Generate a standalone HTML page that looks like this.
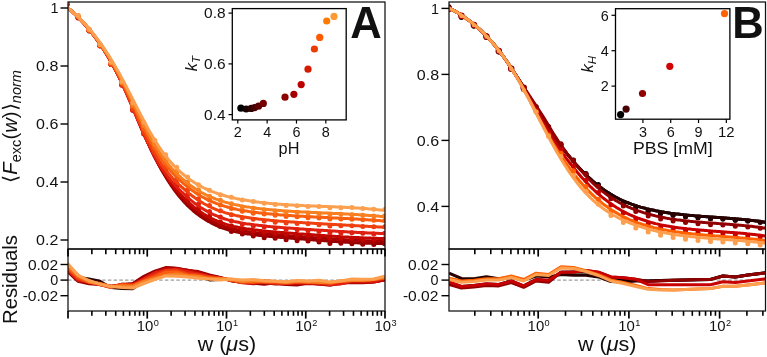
<!DOCTYPE html>
<html><head><meta charset="utf-8"><style>
html,body{margin:0;padding:0;background:#fff;width:767px;height:357px;overflow:hidden}
svg{display:block;will-change:transform;font-family:"Liberation Sans", sans-serif}
</style></head><body>
<svg width="767" height="357" viewBox="0 0 767 357">
<defs><clipPath id="ca"><rect x="68" y="2" width="317" height="247"/></clipPath><clipPath id="cb"><rect x="449" y="2" width="316.5" height="247"/></clipPath><clipPath id="cra"><rect x="68" y="249" width="317" height="62"/></clipPath><clipPath id="crb"><rect x="449" y="249" width="316.5" height="62"/></clipPath></defs>
<rect width="767" height="357" fill="#fff"/>
<g clip-path="url(#ca)" fill="none" stroke-linejoin="round">
<path d="M66.0,6.4L67.5,7.5L69.0,8.8L70.5,10.1L72.0,11.4L73.5,12.8L75.0,14.2L76.5,15.7L78.0,17.1L79.5,18.7L81.0,20.2L82.5,21.8L84.0,23.5L85.5,25.1L87.0,26.9L88.5,28.6L90.0,30.5L91.5,32.3L93.0,34.2L94.5,36.2L96.0,38.2L97.5,40.3L99.0,42.4L100.5,44.6L102.0,46.8L103.5,49.1L105.0,51.5L106.5,53.9L108.0,56.4L109.5,58.9L111.0,61.5L112.5,64.2L114.0,66.9L115.5,69.8L117.0,72.6L118.5,75.6L120.0,78.6L121.5,81.7L123.0,84.9L124.5,88.1L126.0,91.4L127.5,94.8L129.0,98.2L130.5,101.7L132.0,105.2L133.5,108.7L135.0,112.3L136.5,115.9L138.0,119.5L139.5,123.0L141.0,126.6L142.5,130.1L144.0,133.6L145.5,137.1L147.0,140.5L148.5,143.8L150.0,147.1L151.5,150.3L153.0,153.4L154.5,156.5L156.0,159.5L157.5,162.4L159.0,165.2L160.5,168.0L162.0,170.7L163.5,173.3L165.0,175.8L166.5,178.3L168.0,180.7L169.5,183.0L171.0,185.3L172.5,187.4L174.0,189.6L175.5,191.6L177.0,193.6L178.5,195.5L180.0,197.3L181.5,199.1L183.0,200.8L184.5,202.5L186.0,204.0L187.5,205.6L189.0,207.0L190.5,208.4L192.0,209.7L193.5,211.0L195.0,212.3L196.5,213.5L198.0,214.6L199.5,215.7L201.0,216.8L202.5,217.8L204.0,218.8L205.5,219.7L207.0,220.6L208.5,221.5L210.0,222.3L211.5,223.1L213.0,223.9L214.5,224.6L216.0,225.3L217.5,226.0L219.0,226.6L220.5,227.3L222.0,227.8L223.5,228.4L225.0,228.9L226.5,229.4L228.0,229.8L229.5,230.3L231.0,230.7L232.5,231.0L234.0,231.4L235.5,231.7L237.0,232.1L238.5,232.4L240.0,232.6L241.5,232.9L243.0,233.2L244.5,233.4L246.0,233.7L247.5,233.9L249.0,234.1L250.5,234.3L252.0,234.5L253.5,234.7L255.0,234.9L256.5,235.1L258.0,235.3L259.5,235.4L261.0,235.6L262.5,235.8L264.0,235.9L265.5,236.1L267.0,236.2L268.5,236.3L270.0,236.5L271.5,236.6L273.0,236.8L274.5,236.9L276.0,237.0L277.5,237.1L279.0,237.3L280.5,237.4L282.0,237.5L283.5,237.6L285.0,237.7L286.5,237.8L288.0,238.0L289.5,238.1L291.0,238.2L292.5,238.3L294.0,238.4L295.5,238.5L297.0,238.6L298.5,238.8L300.0,238.9L301.5,239.0L303.0,239.1L304.5,239.2L306.0,239.3L307.5,239.5L309.0,239.6L310.5,239.7L312.0,239.8L313.5,239.9L315.0,240.0L316.5,240.2L318.0,240.3L319.5,240.4L321.0,240.5L322.5,240.6L324.0,240.7L325.5,240.8L327.0,241.0L328.5,241.1L330.0,241.2L331.5,241.3L333.0,241.4L334.5,241.5L336.0,241.6L337.5,241.7L339.0,241.8L340.5,241.9L342.0,242.0L343.5,242.1L345.0,242.2L346.5,242.3L348.0,242.3L349.5,242.4L351.0,242.5L352.5,242.6L354.0,242.7L355.5,242.7L357.0,242.8L358.5,242.9L360.0,242.9L361.5,243.0L363.0,243.1L364.5,243.1L366.0,243.2L367.5,243.2L369.0,243.3L370.5,243.3L372.0,243.3L373.5,243.4L375.0,243.4L376.5,243.4L378.0,243.4L379.5,243.5L381.0,243.5L382.5,243.5L384.0,243.5L385.5,243.5L387.0,243.5" stroke="#960000" stroke-width="3.0"/>
<g fill="#960000"><circle cx="67.2" cy="4.3" r="2.5"/><circle cx="78.1" cy="18.0" r="2.5"/><circle cx="89.1" cy="30.9" r="2.5"/><circle cx="100.0" cy="45.8" r="2.5"/><circle cx="111.0" cy="64.4" r="2.5"/><circle cx="121.9" cy="84.5" r="2.5"/><circle cx="132.8" cy="108.7" r="2.5"/><circle cx="143.8" cy="132.0" r="2.5"/><circle cx="154.8" cy="153.9" r="2.5"/><circle cx="165.7" cy="172.7" r="2.5"/><circle cx="176.7" cy="189.0" r="2.5"/><circle cx="187.6" cy="202.4" r="2.5"/><circle cx="198.5" cy="212.2" r="2.5"/><circle cx="209.5" cy="220.4" r="2.5"/><circle cx="220.4" cy="226.5" r="2.5"/><circle cx="231.4" cy="231.4" r="2.5"/><circle cx="242.3" cy="234.1" r="2.5"/><circle cx="253.3" cy="236.1" r="2.5"/><circle cx="264.2" cy="237.8" r="2.5"/><circle cx="275.2" cy="238.2" r="2.5"/><circle cx="286.1" cy="239.8" r="2.5"/><circle cx="297.1" cy="240.8" r="2.5"/><circle cx="308.0" cy="240.9" r="2.5"/><circle cx="319.0" cy="242.1" r="2.5"/><circle cx="329.9" cy="243.4" r="2.5"/><circle cx="340.9" cy="243.3" r="2.5"/><circle cx="351.9" cy="243.8" r="2.5"/><circle cx="362.8" cy="244.3" r="2.5"/><circle cx="373.8" cy="244.4" r="2.5"/><circle cx="384.7" cy="243.7" r="2.5"/></g>
<path d="M66.0,6.4L67.5,7.5L69.0,8.8L70.5,10.1L72.0,11.4L73.5,12.8L75.0,14.2L76.5,15.7L78.0,17.1L79.5,18.7L81.0,20.2L82.5,21.8L84.0,23.5L85.5,25.2L87.0,26.9L88.5,28.7L90.0,30.5L91.5,32.4L93.0,34.3L94.5,36.2L96.0,38.3L97.5,40.3L99.0,42.5L100.5,44.6L102.0,46.9L103.5,49.2L105.0,51.6L106.5,54.0L108.0,56.5L109.5,59.0L111.0,61.6L112.5,64.3L114.0,67.1L115.5,69.9L117.0,72.8L118.5,75.7L120.0,78.8L121.5,81.9L123.0,85.1L124.5,88.4L126.0,91.7L127.5,95.1L129.0,98.5L130.5,102.0L132.0,105.5L133.5,109.1L135.0,112.7L136.5,116.3L138.0,119.8L139.5,123.4L141.0,127.0L142.5,130.5L144.0,134.0L145.5,137.4L147.0,140.7L148.5,144.0L150.0,147.3L151.5,150.4L153.0,153.5L154.5,156.5L156.0,159.4L157.5,162.3L159.0,165.0L160.5,167.7L162.0,170.3L163.5,172.8L165.0,175.2L166.5,177.6L168.0,179.9L169.5,182.1L171.0,184.2L172.5,186.3L174.0,188.3L175.5,190.3L177.0,192.1L178.5,194.0L180.0,195.7L181.5,197.4L183.0,199.1L184.5,200.6L186.0,202.2L187.5,203.6L189.0,205.0L190.5,206.4L192.0,207.7L193.5,209.0L195.0,210.2L196.5,211.4L198.0,212.5L199.5,213.6L201.0,214.7L202.5,215.7L204.0,216.6L205.5,217.6L207.0,218.5L208.5,219.3L210.0,220.1L211.5,220.9L213.0,221.7L214.5,222.4L216.0,223.1L217.5,223.7L219.0,224.4L220.5,225.0L222.0,225.5L223.5,226.1L225.0,226.6L226.5,227.0L228.0,227.5L229.5,227.9L231.0,228.3L232.5,228.7L234.0,229.1L235.5,229.4L237.0,229.7L238.5,230.0L240.0,230.3L241.5,230.6L243.0,230.8L244.5,231.1L246.0,231.3L247.5,231.6L249.0,231.8L250.5,232.0L252.0,232.2L253.5,232.4L255.0,232.6L256.5,232.8L258.0,232.9L259.5,233.1L261.0,233.3L262.5,233.4L264.0,233.6L265.5,233.7L267.0,233.9L268.5,234.0L270.0,234.2L271.5,234.3L273.0,234.4L274.5,234.6L276.0,234.7L277.5,234.8L279.0,234.9L280.5,235.1L282.0,235.2L283.5,235.3L285.0,235.4L286.5,235.5L288.0,235.6L289.5,235.8L291.0,235.9L292.5,236.0L294.0,236.1L295.5,236.2L297.0,236.3L298.5,236.4L300.0,236.5L301.5,236.6L303.0,236.8L304.5,236.9L306.0,237.0L307.5,237.1L309.0,237.2L310.5,237.3L312.0,237.4L313.5,237.6L315.0,237.7L316.5,237.8L318.0,237.9L319.5,238.0L321.0,238.1L322.5,238.2L324.0,238.3L325.5,238.4L327.0,238.6L328.5,238.7L330.0,238.8L331.5,238.9L333.0,239.0L334.5,239.1L336.0,239.2L337.5,239.3L339.0,239.4L340.5,239.5L342.0,239.5L343.5,239.6L345.0,239.7L346.5,239.8L348.0,239.9L349.5,240.0L351.0,240.1L352.5,240.1L354.0,240.2L355.5,240.3L357.0,240.4L358.5,240.4L360.0,240.5L361.5,240.6L363.0,240.6L364.5,240.7L366.0,240.7L367.5,240.8L369.0,240.8L370.5,240.9L372.0,240.9L373.5,241.0L375.0,241.0L376.5,241.1L378.0,241.1L379.5,241.1L381.0,241.1L382.5,241.2L384.0,241.2L385.5,241.2L387.0,241.2" stroke="#a80000" stroke-width="3.0"/>
<g fill="#a80000"><circle cx="67.2" cy="4.0" r="2.5"/><circle cx="78.1" cy="17.6" r="2.5"/><circle cx="89.1" cy="30.8" r="2.5"/><circle cx="100.0" cy="45.7" r="2.5"/><circle cx="111.0" cy="64.1" r="2.5"/><circle cx="121.9" cy="85.0" r="2.5"/><circle cx="132.8" cy="109.4" r="2.5"/><circle cx="143.8" cy="132.7" r="2.5"/><circle cx="154.8" cy="154.4" r="2.5"/><circle cx="165.7" cy="172.1" r="2.5"/><circle cx="176.7" cy="187.6" r="2.5"/><circle cx="187.6" cy="200.3" r="2.5"/><circle cx="198.5" cy="210.5" r="2.5"/><circle cx="209.5" cy="218.6" r="2.5"/><circle cx="220.4" cy="224.4" r="2.5"/><circle cx="231.4" cy="228.9" r="2.5"/><circle cx="242.3" cy="231.9" r="2.5"/><circle cx="253.3" cy="234.0" r="2.5"/><circle cx="264.2" cy="234.8" r="2.5"/><circle cx="275.2" cy="236.4" r="2.5"/><circle cx="286.1" cy="237.3" r="2.5"/><circle cx="297.1" cy="238.0" r="2.5"/><circle cx="308.0" cy="238.7" r="2.5"/><circle cx="319.0" cy="239.6" r="2.5"/><circle cx="329.9" cy="240.5" r="2.5"/><circle cx="340.9" cy="240.7" r="2.5"/><circle cx="351.9" cy="240.9" r="2.5"/><circle cx="362.8" cy="241.8" r="2.5"/><circle cx="373.8" cy="241.8" r="2.5"/><circle cx="384.7" cy="241.4" r="2.5"/></g>
<path d="M66.0,6.4L67.5,7.5L69.0,8.8L70.5,10.1L72.0,11.4L73.5,12.8L75.0,14.2L76.5,15.7L78.0,17.2L79.5,18.7L81.0,20.2L82.5,21.8L84.0,23.5L85.5,25.2L87.0,26.9L88.5,28.7L90.0,30.5L91.5,32.4L93.0,34.3L94.5,36.3L96.0,38.3L97.5,40.4L99.0,42.5L100.5,44.7L102.0,47.0L103.5,49.3L105.0,51.6L106.5,54.1L108.0,56.5L109.5,59.1L111.0,61.7L112.5,64.4L114.0,67.2L115.5,70.0L117.0,72.9L118.5,75.9L120.0,79.0L121.5,82.1L123.0,85.3L124.5,88.6L126.0,91.9L127.5,95.3L129.0,98.8L130.5,102.3L132.0,105.9L133.5,109.4L135.0,113.0L136.5,116.6L138.0,120.2L139.5,123.8L141.0,127.3L142.5,130.8L144.0,134.3L145.5,137.7L147.0,141.0L148.5,144.2L150.0,147.4L151.5,150.5L153.0,153.5L154.5,156.4L156.0,159.3L157.5,162.0L159.0,164.7L160.5,167.2L162.0,169.7L163.5,172.1L165.0,174.5L166.5,176.7L168.0,178.9L169.5,181.0L171.0,183.0L172.5,185.0L174.0,186.9L175.5,188.7L177.0,190.5L178.5,192.2L180.0,193.9L181.5,195.5L183.0,197.0L184.5,198.5L186.0,200.0L187.5,201.4L189.0,202.8L190.5,204.1L192.0,205.4L193.5,206.7L195.0,207.9L196.5,209.0L198.0,210.1L199.5,211.2L201.0,212.2L202.5,213.2L204.0,214.2L205.5,215.1L207.0,216.0L208.5,216.8L210.0,217.6L211.5,218.4L213.0,219.1L214.5,219.8L216.0,220.5L217.5,221.1L219.0,221.7L220.5,222.3L222.0,222.9L223.5,223.4L225.0,223.9L226.5,224.4L228.0,224.8L229.5,225.3L231.0,225.7L232.5,226.0L234.0,226.4L235.5,226.7L237.0,227.0L238.5,227.4L240.0,227.6L241.5,227.9L243.0,228.2L244.5,228.4L246.0,228.7L247.5,228.9L249.0,229.1L250.5,229.3L252.0,229.5L253.5,229.7L255.0,229.9L256.5,230.1L258.0,230.3L259.5,230.5L261.0,230.6L262.5,230.8L264.0,230.9L265.5,231.1L267.0,231.2L268.5,231.4L270.0,231.5L271.5,231.7L273.0,231.8L274.5,231.9L276.0,232.1L277.5,232.2L279.0,232.3L280.5,232.4L282.0,232.5L283.5,232.6L285.0,232.8L286.5,232.9L288.0,233.0L289.5,233.1L291.0,233.2L292.5,233.3L294.0,233.4L295.5,233.5L297.0,233.6L298.5,233.8L300.0,233.9L301.5,234.0L303.0,234.1L304.5,234.2L306.0,234.3L307.5,234.4L309.0,234.5L310.5,234.6L312.0,234.7L313.5,234.8L315.0,235.0L316.5,235.1L318.0,235.2L319.5,235.3L321.0,235.4L322.5,235.5L324.0,235.6L325.5,235.7L327.0,235.8L328.5,235.9L330.0,236.0L331.5,236.1L333.0,236.2L334.5,236.3L336.0,236.4L337.5,236.5L339.0,236.6L340.5,236.7L342.0,236.8L343.5,236.9L345.0,236.9L346.5,237.0L348.0,237.1L349.5,237.2L351.0,237.3L352.5,237.4L354.0,237.4L355.5,237.5L357.0,237.6L358.5,237.6L360.0,237.7L361.5,237.8L363.0,237.9L364.5,237.9L366.0,238.0L367.5,238.0L369.0,238.1L370.5,238.1L372.0,238.2L373.5,238.3L375.0,238.3L376.5,238.3L378.0,238.4L379.5,238.4L381.0,238.5L382.5,238.5L384.0,238.5L385.5,238.6L387.0,238.6" stroke="#c00800" stroke-width="3.0"/>
<g fill="#c00800"><circle cx="67.2" cy="3.8" r="2.5"/><circle cx="78.1" cy="17.6" r="2.5"/><circle cx="89.1" cy="30.5" r="2.5"/><circle cx="100.0" cy="45.6" r="2.5"/><circle cx="111.0" cy="64.4" r="2.5"/><circle cx="121.9" cy="84.8" r="2.5"/><circle cx="132.8" cy="110.0" r="2.5"/><circle cx="143.8" cy="133.7" r="2.5"/><circle cx="154.8" cy="154.7" r="2.5"/><circle cx="165.7" cy="171.7" r="2.5"/><circle cx="176.7" cy="186.6" r="2.5"/><circle cx="187.6" cy="198.2" r="2.5"/><circle cx="198.5" cy="208.0" r="2.5"/><circle cx="209.5" cy="216.2" r="2.5"/><circle cx="220.4" cy="222.0" r="2.5"/><circle cx="231.4" cy="226.0" r="2.5"/><circle cx="242.3" cy="228.9" r="2.5"/><circle cx="253.3" cy="230.9" r="2.5"/><circle cx="264.2" cy="232.2" r="2.5"/><circle cx="275.2" cy="233.3" r="2.5"/><circle cx="286.1" cy="234.3" r="2.5"/><circle cx="297.1" cy="235.2" r="2.5"/><circle cx="308.0" cy="235.8" r="2.5"/><circle cx="319.0" cy="237.0" r="2.5"/><circle cx="329.9" cy="238.0" r="2.5"/><circle cx="340.9" cy="238.2" r="2.5"/><circle cx="351.9" cy="238.3" r="2.5"/><circle cx="362.8" cy="239.0" r="2.5"/><circle cx="373.8" cy="239.3" r="2.5"/><circle cx="384.7" cy="238.7" r="2.5"/></g>
<path d="M66.0,6.4L67.5,7.5L69.0,8.8L70.5,10.1L72.0,11.4L73.5,12.8L75.0,14.2L76.5,15.7L78.0,17.2L79.5,18.7L81.0,20.3L82.5,21.9L84.0,23.5L85.5,25.2L87.0,26.9L88.5,28.7L90.0,30.5L91.5,32.4L93.0,34.3L94.5,36.3L96.0,38.3L97.5,40.4L99.0,42.6L100.5,44.8L102.0,47.0L103.5,49.3L105.0,51.7L106.5,54.1L108.0,56.6L109.5,59.2L111.0,61.8L112.5,64.5L114.0,67.3L115.5,70.2L117.0,73.1L118.5,76.1L120.0,79.1L121.5,82.3L123.0,85.5L124.5,88.8L126.0,92.2L127.5,95.6L129.0,99.1L130.5,102.6L132.0,106.2L133.5,109.8L135.0,113.4L136.5,117.0L138.0,120.6L139.5,124.1L141.0,127.6L142.5,131.1L144.0,134.5L145.5,137.8L147.0,141.0L148.5,144.2L150.0,147.3L151.5,150.2L153.0,153.1L154.5,155.9L156.0,158.6L157.5,161.2L159.0,163.7L160.5,166.1L162.0,168.4L163.5,170.6L165.0,172.8L166.5,174.8L168.0,176.8L169.5,178.7L171.0,180.6L172.5,182.3L174.0,184.0L175.5,185.7L177.0,187.3L178.5,188.8L180.0,190.3L181.5,191.8L183.0,193.2L184.5,194.6L186.0,196.0L187.5,197.3L189.0,198.6L190.5,199.9L192.0,201.1L193.5,202.3L195.0,203.5L196.5,204.6L198.0,205.7L199.5,206.7L201.0,207.7L202.5,208.6L204.0,209.5L205.5,210.4L207.0,211.3L208.5,212.1L210.0,212.8L211.5,213.6L213.0,214.3L214.5,215.0L216.0,215.6L217.5,216.2L219.0,216.8L220.5,217.4L222.0,218.0L223.5,218.5L225.0,219.0L226.5,219.4L228.0,219.9L229.5,220.3L231.0,220.7L232.5,221.0L234.0,221.4L235.5,221.7L237.0,222.0L238.5,222.3L240.0,222.6L241.5,222.9L243.0,223.2L244.5,223.4L246.0,223.7L247.5,223.9L249.0,224.1L250.5,224.3L252.0,224.5L253.5,224.7L255.0,224.9L256.5,225.1L258.0,225.3L259.5,225.5L261.0,225.6L262.5,225.8L264.0,226.0L265.5,226.1L267.0,226.3L268.5,226.4L270.0,226.6L271.5,226.7L273.0,226.8L274.5,227.0L276.0,227.1L277.5,227.2L279.0,227.3L280.5,227.5L282.0,227.6L283.5,227.7L285.0,227.8L286.5,227.9L288.0,228.0L289.5,228.1L291.0,228.2L292.5,228.3L294.0,228.4L295.5,228.5L297.0,228.6L298.5,228.7L300.0,228.9L301.5,229.0L303.0,229.1L304.5,229.2L306.0,229.3L307.5,229.4L309.0,229.5L310.5,229.6L312.0,229.7L313.5,229.8L315.0,229.9L316.5,230.0L318.0,230.1L319.5,230.2L321.0,230.3L322.5,230.3L324.0,230.4L325.5,230.5L327.0,230.6L328.5,230.7L330.0,230.8L331.5,230.9L333.0,231.0L334.5,231.1L336.0,231.2L337.5,231.3L339.0,231.4L340.5,231.5L342.0,231.5L343.5,231.6L345.0,231.7L346.5,231.8L348.0,231.9L349.5,232.0L351.0,232.0L352.5,232.1L354.0,232.2L355.5,232.3L357.0,232.4L358.5,232.4L360.0,232.5L361.5,232.6L363.0,232.7L364.5,232.7L366.0,232.8L367.5,232.9L369.0,232.9L370.5,233.0L372.0,233.1L373.5,233.1L375.0,233.2L376.5,233.3L378.0,233.3L379.5,233.4L381.0,233.5L382.5,233.5L384.0,233.6L385.5,233.6L387.0,233.7" stroke="#e02010" stroke-width="3.0"/>
<g fill="#e02010"><circle cx="67.2" cy="3.5" r="2.5"/><circle cx="78.1" cy="17.5" r="2.5"/><circle cx="89.1" cy="30.4" r="2.5"/><circle cx="100.0" cy="46.1" r="2.5"/><circle cx="111.0" cy="64.3" r="2.5"/><circle cx="121.9" cy="85.2" r="2.5"/><circle cx="132.8" cy="110.4" r="2.5"/><circle cx="143.8" cy="133.9" r="2.5"/><circle cx="154.8" cy="153.9" r="2.5"/><circle cx="165.7" cy="170.3" r="2.5"/><circle cx="176.7" cy="183.1" r="2.5"/><circle cx="187.6" cy="194.5" r="2.5"/><circle cx="198.5" cy="204.1" r="2.5"/><circle cx="209.5" cy="211.6" r="2.5"/><circle cx="220.4" cy="217.0" r="2.5"/><circle cx="231.4" cy="221.1" r="2.5"/><circle cx="242.3" cy="224.4" r="2.5"/><circle cx="253.3" cy="226.1" r="2.5"/><circle cx="264.2" cy="226.9" r="2.5"/><circle cx="275.2" cy="228.3" r="2.5"/><circle cx="286.1" cy="229.5" r="2.5"/><circle cx="297.1" cy="229.8" r="2.5"/><circle cx="308.0" cy="230.7" r="2.5"/><circle cx="319.0" cy="231.6" r="2.5"/><circle cx="329.9" cy="232.7" r="2.5"/><circle cx="340.9" cy="233.2" r="2.5"/><circle cx="351.9" cy="232.7" r="2.5"/><circle cx="362.8" cy="233.3" r="2.5"/><circle cx="373.8" cy="233.9" r="2.5"/><circle cx="384.7" cy="233.2" r="2.5"/></g>
<path d="M66.0,6.4L67.5,7.5L69.0,8.8L70.5,10.1L72.0,11.4L73.5,12.8L75.0,14.2L76.5,15.6L78.0,17.1L79.5,18.6L81.0,20.2L82.5,21.8L84.0,23.4L85.5,25.1L87.0,26.8L88.5,28.6L90.0,30.4L91.5,32.3L93.0,34.2L94.5,36.2L96.0,38.2L97.5,40.3L99.0,42.4L100.5,44.6L102.0,46.8L103.5,49.1L105.0,51.4L106.5,53.8L108.0,56.3L109.5,58.8L111.0,61.4L112.5,64.1L114.0,66.9L115.5,69.7L117.0,72.5L118.5,75.5L120.0,78.5L121.5,81.6L123.0,84.7L124.5,88.0L126.0,91.3L127.5,94.6L129.0,98.0L130.5,101.5L132.0,104.9L133.5,108.4L135.0,111.9L136.5,115.4L138.0,118.9L139.5,122.3L141.0,125.7L142.5,129.0L144.0,132.3L145.5,135.5L147.0,138.6L148.5,141.7L150.0,144.6L151.5,147.5L153.0,150.2L154.5,152.9L156.0,155.5L157.5,157.9L159.0,160.3L160.5,162.6L162.0,164.8L163.5,166.9L165.0,169.0L166.5,170.9L168.0,172.8L169.5,174.6L171.0,176.3L172.5,178.0L174.0,179.6L175.5,181.1L177.0,182.6L178.5,184.1L180.0,185.5L181.5,186.8L183.0,188.2L184.5,189.5L186.0,190.8L187.5,192.0L189.0,193.3L190.5,194.5L192.0,195.7L193.5,196.8L195.0,197.9L196.5,199.0L198.0,200.0L199.5,201.0L201.0,201.9L202.5,202.8L204.0,203.7L205.5,204.5L207.0,205.3L208.5,206.1L210.0,206.8L211.5,207.5L213.0,208.2L214.5,208.8L216.0,209.5L217.5,210.1L219.0,210.6L220.5,211.2L222.0,211.7L223.5,212.2L225.0,212.7L226.5,213.1L228.0,213.5L229.5,213.9L231.0,214.3L232.5,214.7L234.0,215.0L235.5,215.4L237.0,215.7L238.5,216.0L240.0,216.3L241.5,216.6L243.0,216.8L244.5,217.1L246.0,217.3L247.5,217.6L249.0,217.8L250.5,218.0L252.0,218.2L253.5,218.4L255.0,218.6L256.5,218.8L258.0,219.0L259.5,219.2L261.0,219.3L262.5,219.5L264.0,219.7L265.5,219.8L267.0,220.0L268.5,220.1L270.0,220.3L271.5,220.4L273.0,220.5L274.5,220.7L276.0,220.8L277.5,220.9L279.0,221.1L280.5,221.2L282.0,221.3L283.5,221.4L285.0,221.5L286.5,221.6L288.0,221.7L289.5,221.8L291.0,221.9L292.5,222.0L294.0,222.1L295.5,222.2L297.0,222.3L298.5,222.4L300.0,222.5L301.5,222.6L303.0,222.7L304.5,222.8L306.0,222.9L307.5,223.0L309.0,223.1L310.5,223.1L312.0,223.2L313.5,223.3L315.0,223.4L316.5,223.5L318.0,223.6L319.5,223.7L321.0,223.8L322.5,223.8L324.0,223.9L325.5,224.0L327.0,224.1L328.5,224.2L330.0,224.3L331.5,224.3L333.0,224.4L334.5,224.5L336.0,224.6L337.5,224.7L339.0,224.8L340.5,224.8L342.0,224.9L343.5,225.0L345.0,225.1L346.5,225.2L348.0,225.2L349.5,225.3L351.0,225.4L352.5,225.5L354.0,225.6L355.5,225.7L357.0,225.7L358.5,225.8L360.0,225.9L361.5,226.0L363.0,226.1L364.5,226.2L366.0,226.2L367.5,226.3L369.0,226.4L370.5,226.5L372.0,226.6L373.5,226.7L375.0,226.8L376.5,226.8L378.0,226.9L379.5,227.0L381.0,227.1L382.5,227.2L384.0,227.3L385.5,227.4L387.0,227.5" stroke="#f04010" stroke-width="3.0"/>
<g fill="#f04010"><circle cx="67.2" cy="3.0" r="2.5"/><circle cx="78.1" cy="16.9" r="2.5"/><circle cx="89.1" cy="30.2" r="2.5"/><circle cx="100.0" cy="45.8" r="2.5"/><circle cx="111.0" cy="64.4" r="2.5"/><circle cx="121.9" cy="84.3" r="2.5"/><circle cx="132.8" cy="109.1" r="2.5"/><circle cx="143.8" cy="132.2" r="2.5"/><circle cx="154.8" cy="151.9" r="2.5"/><circle cx="165.7" cy="166.7" r="2.5"/><circle cx="176.7" cy="179.1" r="2.5"/><circle cx="187.6" cy="190.1" r="2.5"/><circle cx="198.5" cy="198.8" r="2.5"/><circle cx="209.5" cy="205.6" r="2.5"/><circle cx="220.4" cy="210.8" r="2.5"/><circle cx="231.4" cy="214.7" r="2.5"/><circle cx="242.3" cy="217.9" r="2.5"/><circle cx="253.3" cy="219.2" r="2.5"/><circle cx="264.2" cy="220.9" r="2.5"/><circle cx="275.2" cy="222.2" r="2.5"/><circle cx="286.1" cy="223.1" r="2.5"/><circle cx="297.1" cy="223.4" r="2.5"/><circle cx="308.0" cy="223.8" r="2.5"/><circle cx="319.0" cy="224.7" r="2.5"/><circle cx="329.9" cy="226.0" r="2.5"/><circle cx="340.9" cy="225.7" r="2.5"/><circle cx="351.9" cy="225.8" r="2.5"/><circle cx="362.8" cy="226.6" r="2.5"/><circle cx="373.8" cy="226.8" r="2.5"/><circle cx="384.7" cy="226.8" r="2.5"/></g>
<path d="M66.0,6.4L67.5,7.5L69.0,8.8L70.5,10.1L72.0,11.4L73.5,12.7L75.0,14.1L76.5,15.6L78.0,17.0L79.5,18.5L81.0,20.1L82.5,21.7L84.0,23.3L85.5,25.0L87.0,26.7L88.5,28.4L90.0,30.2L91.5,32.1L93.0,34.0L94.5,35.9L96.0,37.9L97.5,39.9L99.0,42.0L100.5,44.1L102.0,46.3L103.5,48.6L105.0,50.9L106.5,53.2L108.0,55.7L109.5,58.1L111.0,60.7L112.5,63.3L114.0,65.9L115.5,68.7L117.0,71.4L118.5,74.3L120.0,77.2L121.5,80.2L123.0,83.2L124.5,86.3L126.0,89.4L127.5,92.6L129.0,95.8L130.5,99.1L132.0,102.4L133.5,105.7L135.0,109.0L136.5,112.3L138.0,115.6L139.5,118.8L141.0,122.1L142.5,125.2L144.0,128.3L145.5,131.4L147.0,134.4L148.5,137.3L150.0,140.1L151.5,142.9L153.0,145.6L154.5,148.2L156.0,150.7L157.5,153.1L159.0,155.4L160.5,157.7L162.0,159.8L163.5,161.9L165.0,163.9L166.5,165.9L168.0,167.7L169.5,169.5L171.0,171.2L172.5,172.9L174.0,174.5L175.5,176.0L177.0,177.5L178.5,178.9L180.0,180.3L181.5,181.7L183.0,183.0L184.5,184.3L186.0,185.5L187.5,186.7L189.0,187.9L190.5,189.1L192.0,190.2L193.5,191.3L195.0,192.4L196.5,193.4L198.0,194.3L199.5,195.3L201.0,196.2L202.5,197.0L204.0,197.8L205.5,198.6L207.0,199.4L208.5,200.1L210.0,200.8L211.5,201.5L213.0,202.1L214.5,202.7L216.0,203.3L217.5,203.9L219.0,204.4L220.5,204.9L222.0,205.4L223.5,205.9L225.0,206.4L226.5,206.8L228.0,207.2L229.5,207.6L231.0,208.0L232.5,208.4L234.0,208.7L235.5,209.0L237.0,209.4L238.5,209.7L240.0,209.9L241.5,210.2L243.0,210.5L244.5,210.8L246.0,211.0L247.5,211.2L249.0,211.5L250.5,211.7L252.0,211.9L253.5,212.1L255.0,212.3L256.5,212.5L258.0,212.7L259.5,212.9L261.0,213.0L262.5,213.2L264.0,213.4L265.5,213.5L267.0,213.7L268.5,213.8L270.0,214.0L271.5,214.1L273.0,214.3L274.5,214.4L276.0,214.5L277.5,214.6L279.0,214.8L280.5,214.9L282.0,215.0L283.5,215.1L285.0,215.2L286.5,215.3L288.0,215.4L289.5,215.5L291.0,215.6L292.5,215.7L294.0,215.8L295.5,215.9L297.0,216.0L298.5,216.1L300.0,216.2L301.5,216.2L303.0,216.3L304.5,216.4L306.0,216.5L307.5,216.6L309.0,216.6L310.5,216.7L312.0,216.8L313.5,216.9L315.0,217.0L316.5,217.0L318.0,217.1L319.5,217.2L321.0,217.3L322.5,217.3L324.0,217.4L325.5,217.5L327.0,217.6L328.5,217.6L330.0,217.7L331.5,217.8L333.0,217.9L334.5,217.9L336.0,218.0L337.5,218.1L339.0,218.2L340.5,218.2L342.0,218.3L343.5,218.4L345.0,218.5L346.5,218.5L348.0,218.6L349.5,218.7L351.0,218.8L352.5,218.9L354.0,218.9L355.5,219.0L357.0,219.1L358.5,219.2L360.0,219.3L361.5,219.4L363.0,219.5L364.5,219.6L366.0,219.7L367.5,219.8L369.0,219.9L370.5,220.0L372.0,220.1L373.5,220.2L375.0,220.3L376.5,220.4L378.0,220.5L379.5,220.6L381.0,220.8L382.5,220.9L384.0,221.0L385.5,221.1L387.0,221.3" stroke="#f86010" stroke-width="3.0"/>
<g fill="#f86010"><circle cx="67.2" cy="2.4" r="2.5"/><circle cx="78.1" cy="16.3" r="2.5"/><circle cx="89.1" cy="30.2" r="2.5"/><circle cx="100.0" cy="45.1" r="2.5"/><circle cx="111.0" cy="63.2" r="2.5"/><circle cx="121.9" cy="83.2" r="2.5"/><circle cx="132.8" cy="106.8" r="2.5"/><circle cx="143.8" cy="128.8" r="2.5"/><circle cx="154.8" cy="147.8" r="2.5"/><circle cx="165.7" cy="162.3" r="2.5"/><circle cx="176.7" cy="174.5" r="2.5"/><circle cx="187.6" cy="185.3" r="2.5"/><circle cx="198.5" cy="193.6" r="2.5"/><circle cx="209.5" cy="200.1" r="2.5"/><circle cx="220.4" cy="204.9" r="2.5"/><circle cx="231.4" cy="208.4" r="2.5"/><circle cx="242.3" cy="211.2" r="2.5"/><circle cx="253.3" cy="213.2" r="2.5"/><circle cx="264.2" cy="213.9" r="2.5"/><circle cx="275.2" cy="215.3" r="2.5"/><circle cx="286.1" cy="216.4" r="2.5"/><circle cx="297.1" cy="216.8" r="2.5"/><circle cx="308.0" cy="217.8" r="2.5"/><circle cx="319.0" cy="217.9" r="2.5"/><circle cx="329.9" cy="219.1" r="2.5"/><circle cx="340.9" cy="218.9" r="2.5"/><circle cx="351.9" cy="219.2" r="2.5"/><circle cx="362.8" cy="219.8" r="2.5"/><circle cx="373.8" cy="220.2" r="2.5"/><circle cx="384.7" cy="220.6" r="2.5"/></g>
<path d="M66.0,6.3L67.5,7.5L69.0,8.8L70.5,10.0L72.0,11.4L73.5,12.7L75.0,14.1L76.5,15.5L78.0,17.0L79.5,18.5L81.0,20.0L82.5,21.6L84.0,23.2L85.5,24.8L87.0,26.5L88.5,28.3L90.0,30.0L91.5,31.9L93.0,33.7L94.5,35.6L96.0,37.6L97.5,39.6L99.0,41.7L100.5,43.8L102.0,46.0L103.5,48.2L105.0,50.4L106.5,52.8L108.0,55.1L109.5,57.6L111.0,60.0L112.5,62.6L114.0,65.2L115.5,67.8L117.0,70.5L118.5,73.3L120.0,76.1L121.5,79.0L123.0,81.9L124.5,84.9L126.0,87.9L127.5,90.9L129.0,94.0L130.5,97.2L132.0,100.3L133.5,103.4L135.0,106.6L136.5,109.7L138.0,112.9L139.5,116.0L141.0,119.1L142.5,122.1L144.0,125.1L145.5,128.0L147.0,130.9L148.5,133.8L150.0,136.5L151.5,139.2L153.0,141.8L154.5,144.4L156.0,146.9L157.5,149.3L159.0,151.6L160.5,153.8L162.0,156.0L163.5,158.1L165.0,160.1L166.5,162.1L168.0,164.0L169.5,165.8L171.0,167.5L172.5,169.2L174.0,170.8L175.5,172.4L177.0,173.9L178.5,175.3L180.0,176.7L181.5,178.1L183.0,179.4L184.5,180.7L186.0,181.9L187.5,183.1L189.0,184.3L190.5,185.4L192.0,186.5L193.5,187.5L195.0,188.6L196.5,189.5L198.0,190.5L199.5,191.4L201.0,192.2L202.5,193.0L204.0,193.8L205.5,194.6L207.0,195.3L208.5,196.0L210.0,196.7L211.5,197.3L213.0,197.9L214.5,198.5L216.0,199.1L217.5,199.6L219.0,200.2L220.5,200.7L222.0,201.2L223.5,201.6L225.0,202.1L226.5,202.5L228.0,202.9L229.5,203.3L231.0,203.7L232.5,204.0L234.0,204.4L235.5,204.7L237.0,205.0L238.5,205.3L240.0,205.6L241.5,205.9L243.0,206.2L244.5,206.4L246.0,206.7L247.5,206.9L249.0,207.1L250.5,207.4L252.0,207.6L253.5,207.8L255.0,208.0L256.5,208.2L258.0,208.4L259.5,208.6L261.0,208.7L262.5,208.9L264.0,209.1L265.5,209.2L267.0,209.4L268.5,209.5L270.0,209.7L271.5,209.8L273.0,210.0L274.5,210.1L276.0,210.2L277.5,210.3L279.0,210.5L280.5,210.6L282.0,210.7L283.5,210.8L285.0,210.9L286.5,211.0L288.0,211.1L289.5,211.2L291.0,211.3L292.5,211.4L294.0,211.5L295.5,211.6L297.0,211.6L298.5,211.7L300.0,211.8L301.5,211.9L303.0,212.0L304.5,212.0L306.0,212.1L307.5,212.2L309.0,212.3L310.5,212.3L312.0,212.4L313.5,212.5L315.0,212.5L316.5,212.6L318.0,212.7L319.5,212.7L321.0,212.8L322.5,212.9L324.0,212.9L325.5,213.0L327.0,213.1L328.5,213.1L330.0,213.2L331.5,213.3L333.0,213.4L334.5,213.4L336.0,213.5L337.5,213.6L339.0,213.6L340.5,213.7L342.0,213.8L343.5,213.8L345.0,213.9L346.5,214.0L348.0,214.1L349.5,214.2L351.0,214.2L352.5,214.3L354.0,214.4L355.5,214.5L357.0,214.6L358.5,214.7L360.0,214.8L361.5,214.9L363.0,215.0L364.5,215.1L366.0,215.2L367.5,215.3L369.0,215.4L370.5,215.5L372.0,215.6L373.5,215.8L375.0,215.9L376.5,216.0L378.0,216.1L379.5,216.3L381.0,216.4L382.5,216.6L384.0,216.7L385.5,216.9L387.0,217.0" stroke="#f88020" stroke-width="3.0"/>
<g fill="#f88020"><circle cx="67.2" cy="1.8" r="2.5"/><circle cx="78.1" cy="15.6" r="2.5"/><circle cx="89.1" cy="29.8" r="2.5"/><circle cx="100.0" cy="44.6" r="2.5"/><circle cx="111.0" cy="62.7" r="2.5"/><circle cx="121.9" cy="82.2" r="2.5"/><circle cx="132.8" cy="104.7" r="2.5"/><circle cx="143.8" cy="125.5" r="2.5"/><circle cx="154.8" cy="144.5" r="2.5"/><circle cx="165.7" cy="159.6" r="2.5"/><circle cx="176.7" cy="171.6" r="2.5"/><circle cx="187.6" cy="181.9" r="2.5"/><circle cx="198.5" cy="189.7" r="2.5"/><circle cx="209.5" cy="196.3" r="2.5"/><circle cx="220.4" cy="200.3" r="2.5"/><circle cx="231.4" cy="203.7" r="2.5"/><circle cx="242.3" cy="206.9" r="2.5"/><circle cx="253.3" cy="208.3" r="2.5"/><circle cx="264.2" cy="209.8" r="2.5"/><circle cx="275.2" cy="211.0" r="2.5"/><circle cx="286.1" cy="212.2" r="2.5"/><circle cx="297.1" cy="212.2" r="2.5"/><circle cx="308.0" cy="213.1" r="2.5"/><circle cx="319.0" cy="213.9" r="2.5"/><circle cx="329.9" cy="214.3" r="2.5"/><circle cx="340.9" cy="214.3" r="2.5"/><circle cx="351.9" cy="214.7" r="2.5"/><circle cx="362.8" cy="215.3" r="2.5"/><circle cx="373.8" cy="215.9" r="2.5"/><circle cx="384.7" cy="215.8" r="2.5"/></g>
<path d="M66.0,6.3L67.5,7.5L69.0,8.7L70.5,10.0L72.0,11.3L73.5,12.7L75.0,14.0L76.5,15.4L78.0,16.9L79.5,18.4L81.0,19.9L82.5,21.4L84.0,23.0L85.5,24.7L87.0,26.3L88.5,28.1L90.0,29.8L91.5,31.6L93.0,33.5L94.5,35.4L96.0,37.3L97.5,39.3L99.0,41.3L100.5,43.4L102.0,45.5L103.5,47.7L105.0,49.9L106.5,52.2L108.0,54.5L109.5,56.9L111.0,59.3L112.5,61.7L114.0,64.3L115.5,66.8L117.0,69.4L118.5,72.1L120.0,74.8L121.5,77.6L123.0,80.3L124.5,83.2L126.0,86.0L127.5,88.9L129.0,91.9L130.5,94.8L132.0,97.8L133.5,100.7L135.0,103.7L136.5,106.6L138.0,109.6L139.5,112.5L141.0,115.4L142.5,118.3L144.0,121.1L145.5,123.9L147.0,126.7L148.5,129.4L150.0,132.1L151.5,134.6L153.0,137.2L154.5,139.7L156.0,142.1L157.5,144.4L159.0,146.7L160.5,148.9L162.0,151.0L163.5,153.1L165.0,155.1L166.5,157.0L168.0,158.9L169.5,160.7L171.0,162.4L172.5,164.1L174.0,165.7L175.5,167.2L177.0,168.7L178.5,170.2L180.0,171.6L181.5,172.9L183.0,174.2L184.5,175.5L186.0,176.7L187.5,177.8L189.0,178.9L190.5,180.0L192.0,181.0L193.5,182.0L195.0,183.0L196.5,183.9L198.0,184.8L199.5,185.6L201.0,186.4L202.5,187.2L204.0,188.0L205.5,188.7L207.0,189.4L208.5,190.0L210.0,190.7L211.5,191.3L213.0,191.8L214.5,192.4L216.0,192.9L217.5,193.5L219.0,194.0L220.5,194.4L222.0,194.9L223.5,195.3L225.0,195.8L226.5,196.2L228.0,196.6L229.5,197.0L231.0,197.3L232.5,197.7L234.0,198.0L235.5,198.4L237.0,198.7L238.5,199.0L240.0,199.3L241.5,199.5L243.0,199.8L244.5,200.1L246.0,200.3L247.5,200.6L249.0,200.8L250.5,201.0L252.0,201.3L253.5,201.5L255.0,201.7L256.5,201.9L258.0,202.1L259.5,202.3L261.0,202.4L262.5,202.6L264.0,202.8L265.5,202.9L267.0,203.1L268.5,203.3L270.0,203.4L271.5,203.5L273.0,203.7L274.5,203.8L276.0,203.9L277.5,204.1L279.0,204.2L280.5,204.3L282.0,204.4L283.5,204.5L285.0,204.6L286.5,204.7L288.0,204.8L289.5,204.9L291.0,205.0L292.5,205.1L294.0,205.2L295.5,205.2L297.0,205.3L298.5,205.4L300.0,205.5L301.5,205.5L303.0,205.6L304.5,205.7L306.0,205.7L307.5,205.8L309.0,205.9L310.5,205.9L312.0,206.0L313.5,206.0L315.0,206.1L316.5,206.2L318.0,206.2L319.5,206.3L321.0,206.3L322.5,206.4L324.0,206.4L325.5,206.5L327.0,206.5L328.5,206.6L330.0,206.7L331.5,206.7L333.0,206.8L334.5,206.8L336.0,206.9L337.5,207.0L339.0,207.0L340.5,207.1L342.0,207.2L343.5,207.2L345.0,207.3L346.5,207.4L348.0,207.5L349.5,207.5L351.0,207.6L352.5,207.7L354.0,207.8L355.5,207.9L357.0,208.0L358.5,208.1L360.0,208.2L361.5,208.3L363.0,208.4L364.5,208.5L366.0,208.6L367.5,208.7L369.0,208.9L370.5,209.0L372.0,209.1L373.5,209.3L375.0,209.4L376.5,209.6L378.0,209.7L379.5,209.9L381.0,210.1L382.5,210.3L384.0,210.4L385.5,210.6L387.0,210.8" stroke="#fca050" stroke-width="3.0"/>
<g fill="#fca050"><circle cx="67.2" cy="1.2" r="2.5"/><circle cx="78.1" cy="15.5" r="2.5"/><circle cx="89.1" cy="29.1" r="2.5"/><circle cx="100.0" cy="44.5" r="2.5"/><circle cx="111.0" cy="61.9" r="2.5"/><circle cx="121.9" cy="81.4" r="2.5"/><circle cx="132.8" cy="102.7" r="2.5"/><circle cx="143.8" cy="122.3" r="2.5"/><circle cx="154.8" cy="140.2" r="2.5"/><circle cx="165.7" cy="154.7" r="2.5"/><circle cx="176.7" cy="167.2" r="2.5"/><circle cx="187.6" cy="177.1" r="2.5"/><circle cx="198.5" cy="184.7" r="2.5"/><circle cx="209.5" cy="190.3" r="2.5"/><circle cx="220.4" cy="194.7" r="2.5"/><circle cx="231.4" cy="197.3" r="2.5"/><circle cx="242.3" cy="200.0" r="2.5"/><circle cx="253.3" cy="201.5" r="2.5"/><circle cx="264.2" cy="203.3" r="2.5"/><circle cx="275.2" cy="204.6" r="2.5"/><circle cx="286.1" cy="205.6" r="2.5"/><circle cx="297.1" cy="205.8" r="2.5"/><circle cx="308.0" cy="206.5" r="2.5"/><circle cx="319.0" cy="206.6" r="2.5"/><circle cx="329.9" cy="207.7" r="2.5"/><circle cx="340.9" cy="207.7" r="2.5"/><circle cx="351.9" cy="207.6" r="2.5"/><circle cx="362.8" cy="208.4" r="2.5"/><circle cx="373.8" cy="209.2" r="2.5"/><circle cx="384.7" cy="209.4" r="2.5"/></g>
</g>
<g clip-path="url(#cb)" fill="none" stroke-linejoin="round">
<path d="M447.0,7.0L448.5,7.7L450.0,8.5L451.5,9.3L453.0,10.1L454.5,10.9L456.0,11.8L457.5,12.7L459.0,13.6L460.5,14.6L462.0,15.6L463.5,16.6L465.0,17.6L466.5,18.7L468.0,19.8L469.5,20.9L471.0,22.0L472.5,23.2L474.0,24.5L475.5,25.7L477.0,27.0L478.5,28.3L480.0,29.7L481.5,31.1L483.0,32.6L484.5,34.0L486.0,35.6L487.5,37.1L489.0,38.7L490.5,40.4L492.0,42.1L493.5,43.8L495.0,45.6L496.5,47.5L498.0,49.3L499.5,51.3L501.0,53.3L502.5,55.3L504.0,57.4L505.5,59.5L507.0,61.7L508.5,63.9L510.0,66.2L511.5,68.5L513.0,70.8L514.5,73.1L516.0,75.4L517.5,77.8L519.0,80.1L520.5,82.5L522.0,84.9L523.5,87.3L525.0,89.7L526.5,92.1L528.0,94.5L529.5,96.9L531.0,99.3L532.5,101.7L534.0,104.1L535.5,106.5L537.0,108.9L538.5,111.3L540.0,113.6L541.5,116.0L543.0,118.4L544.5,120.8L546.0,123.2L547.5,125.6L549.0,128.0L550.5,130.4L552.0,132.7L553.5,135.0L555.0,137.3L556.5,139.5L558.0,141.7L559.5,143.8L561.0,145.8L562.5,147.9L564.0,149.8L565.5,151.8L567.0,153.7L568.5,155.5L570.0,157.4L571.5,159.1L573.0,160.9L574.5,162.7L576.0,164.4L577.5,166.1L579.0,167.7L580.5,169.3L582.0,170.9L583.5,172.4L585.0,173.9L586.5,175.4L588.0,176.8L589.5,178.2L591.0,179.5L592.5,180.8L594.0,182.1L595.5,183.4L597.0,184.6L598.5,185.8L600.0,186.9L601.5,188.0L603.0,189.1L604.5,190.2L606.0,191.2L607.5,192.2L609.0,193.1L610.5,194.1L612.0,195.0L613.5,195.9L615.0,196.7L616.5,197.5L618.0,198.3L619.5,199.1L621.0,199.8L622.5,200.5L624.0,201.2L625.5,201.8L627.0,202.4L628.5,203.0L630.0,203.6L631.5,204.2L633.0,204.7L634.5,205.2L636.0,205.7L637.5,206.2L639.0,206.6L640.5,207.1L642.0,207.5L643.5,207.9L645.0,208.3L646.5,208.7L648.0,209.0L649.5,209.4L651.0,209.7L652.5,210.0L654.0,210.3L655.5,210.7L657.0,210.9L658.5,211.2L660.0,211.5L661.5,211.8L663.0,212.0L664.5,212.3L666.0,212.5L667.5,212.7L669.0,212.9L670.5,213.2L672.0,213.4L673.5,213.6L675.0,213.8L676.5,213.9L678.0,214.1L679.5,214.3L681.0,214.5L682.5,214.6L684.0,214.8L685.5,214.9L687.0,215.1L688.5,215.2L690.0,215.4L691.5,215.5L693.0,215.6L694.5,215.8L696.0,215.9L697.5,216.0L699.0,216.1L700.5,216.2L702.0,216.4L703.5,216.5L705.0,216.6L706.5,216.7L708.0,216.8L709.5,216.9L711.0,217.0L712.5,217.1L714.0,217.2L715.5,217.3L717.0,217.4L718.5,217.5L720.0,217.6L721.5,217.8L723.0,217.9L724.5,218.0L726.0,218.1L727.5,218.2L729.0,218.3L730.5,218.4L732.0,218.5L733.5,218.7L735.0,218.8L736.5,218.9L738.0,219.0L739.5,219.2L741.0,219.3L742.5,219.4L744.0,219.6L745.5,219.7L747.0,219.9L748.5,220.0L750.0,220.2L751.5,220.4L753.0,220.6L754.5,220.7L756.0,220.9L757.5,221.1L759.0,221.3L760.5,221.6L762.0,221.8L763.5,222.0L765.0,222.2L766.5,222.5L768.0,222.7" stroke="#000000" stroke-width="3.0"/>
<g fill="#000000"><circle cx="449.0" cy="9.3" r="2.5"/><circle cx="461.4" cy="17.4" r="2.5"/><circle cx="473.9" cy="26.3" r="2.5"/><circle cx="486.4" cy="37.5" r="2.5"/><circle cx="498.8" cy="52.1" r="2.5"/><circle cx="511.2" cy="68.9" r="2.5"/><circle cx="523.7" cy="89.7" r="2.5"/><circle cx="536.1" cy="108.0" r="2.5"/><circle cx="548.6" cy="128.1" r="2.5"/><circle cx="561.0" cy="144.5" r="2.5"/><circle cx="573.5" cy="160.0" r="2.5"/><circle cx="586.0" cy="173.4" r="2.5"/><circle cx="598.4" cy="184.5" r="2.5"/><circle cx="610.9" cy="195.8" r="2.5"/><circle cx="623.3" cy="202.6" r="2.5"/><circle cx="635.8" cy="207.4" r="2.5"/><circle cx="648.2" cy="211.0" r="2.5"/><circle cx="660.6" cy="213.5" r="2.5"/><circle cx="673.1" cy="215.3" r="2.5"/><circle cx="685.5" cy="216.7" r="2.5"/><circle cx="698.0" cy="217.8" r="2.5"/><circle cx="710.5" cy="218.7" r="2.5"/><circle cx="722.9" cy="219.0" r="2.5"/><circle cx="735.3" cy="220.2" r="2.5"/><circle cx="747.8" cy="221.0" r="2.5"/><circle cx="760.2" cy="222.3" r="2.5"/><circle cx="772.7" cy="223.3" r="2.5"/></g>
<path d="M447.0,7.0L448.5,7.7L450.0,8.5L451.5,9.3L453.0,10.1L454.5,10.9L456.0,11.8L457.5,12.7L459.0,13.6L460.5,14.6L462.0,15.6L463.5,16.6L465.0,17.6L466.5,18.7L468.0,19.8L469.5,20.9L471.0,22.0L472.5,23.2L474.0,24.5L475.5,25.7L477.0,27.0L478.5,28.3L480.0,29.7L481.5,31.1L483.0,32.6L484.5,34.0L486.0,35.6L487.5,37.1L489.0,38.7L490.5,40.4L492.0,42.1L493.5,43.8L495.0,45.6L496.5,47.5L498.0,49.3L499.5,51.3L501.0,53.3L502.5,55.3L504.0,57.4L505.5,59.5L507.0,61.7L508.5,63.9L510.0,66.2L511.5,68.5L513.0,70.8L514.5,73.1L516.0,75.4L517.5,77.7L519.0,80.1L520.5,82.4L522.0,84.8L523.5,87.2L525.0,89.5L526.5,91.9L528.0,94.3L529.5,96.7L531.0,99.1L532.5,101.4L534.0,103.8L535.5,106.2L537.0,108.5L538.5,110.9L540.0,113.3L541.5,115.6L543.0,118.0L544.5,120.4L546.0,122.8L547.5,125.2L549.0,127.6L550.5,130.1L552.0,132.4L553.5,134.8L555.0,137.0L556.5,139.3L558.0,141.5L559.5,143.6L561.0,145.7L562.5,147.7L564.0,149.7L565.5,151.7L567.0,153.6L568.5,155.5L570.0,157.3L571.5,159.1L573.0,160.9L574.5,162.7L576.0,164.4L577.5,166.1L579.0,167.7L580.5,169.3L582.0,170.9L583.5,172.4L585.0,173.9L586.5,175.4L588.0,176.8L589.5,178.2L591.0,179.5L592.5,180.8L594.0,182.1L595.5,183.4L597.0,184.6L598.5,185.8L600.0,186.9L601.5,188.0L603.0,189.1L604.5,190.2L606.0,191.2L607.5,192.2L609.0,193.1L610.5,194.1L612.0,195.0L613.5,195.9L615.0,196.7L616.5,197.5L618.0,198.3L619.5,199.1L621.0,199.8L622.5,200.5L624.0,201.2L625.5,201.8L627.0,202.4L628.5,203.0L630.0,203.6L631.5,204.2L633.0,204.7L634.5,205.2L636.0,205.7L637.5,206.2L639.0,206.6L640.5,207.1L642.0,207.5L643.5,207.9L645.0,208.3L646.5,208.7L648.0,209.0L649.5,209.4L651.0,209.7L652.5,210.0L654.0,210.3L655.5,210.7L657.0,210.9L658.5,211.2L660.0,211.5L661.5,211.8L663.0,212.0L664.5,212.3L666.0,212.5L667.5,212.7L669.0,212.9L670.5,213.2L672.0,213.4L673.5,213.6L675.0,213.8L676.5,213.9L678.0,214.1L679.5,214.3L681.0,214.5L682.5,214.6L684.0,214.8L685.5,214.9L687.0,215.1L688.5,215.2L690.0,215.4L691.5,215.5L693.0,215.6L694.5,215.8L696.0,215.9L697.5,216.0L699.0,216.1L700.5,216.2L702.0,216.4L703.5,216.5L705.0,216.6L706.5,216.7L708.0,216.8L709.5,216.9L711.0,217.0L712.5,217.1L714.0,217.2L715.5,217.3L717.0,217.4L718.5,217.5L720.0,217.6L721.5,217.8L723.0,217.9L724.5,218.0L726.0,218.1L727.5,218.2L729.0,218.3L730.5,218.4L732.0,218.5L733.5,218.7L735.0,218.8L736.5,218.9L738.0,219.0L739.5,219.2L741.0,219.3L742.5,219.4L744.0,219.6L745.5,219.7L747.0,219.9L748.5,220.0L750.0,220.2L751.5,220.4L753.0,220.6L754.5,220.7L756.0,220.9L757.5,221.1L759.0,221.3L760.5,221.6L762.0,221.8L763.5,222.0L765.0,222.2L766.5,222.5L768.0,222.7" stroke="#280000" stroke-width="3.0"/>
<g fill="#280000"><circle cx="449.0" cy="6.8" r="2.5"/><circle cx="461.4" cy="15.4" r="2.5"/><circle cx="473.9" cy="24.6" r="2.5"/><circle cx="486.4" cy="35.7" r="2.5"/><circle cx="498.8" cy="50.6" r="2.5"/><circle cx="511.2" cy="68.0" r="2.5"/><circle cx="523.7" cy="88.1" r="2.5"/><circle cx="536.1" cy="106.8" r="2.5"/><circle cx="548.6" cy="126.8" r="2.5"/><circle cx="561.0" cy="145.0" r="2.5"/><circle cx="573.5" cy="160.9" r="2.5"/><circle cx="586.0" cy="174.2" r="2.5"/><circle cx="598.4" cy="185.5" r="2.5"/><circle cx="610.9" cy="196.3" r="2.5"/><circle cx="623.3" cy="202.9" r="2.5"/><circle cx="635.8" cy="207.5" r="2.5"/><circle cx="648.2" cy="211.0" r="2.5"/><circle cx="660.6" cy="213.5" r="2.5"/><circle cx="673.1" cy="215.3" r="2.5"/><circle cx="685.5" cy="216.7" r="2.5"/><circle cx="698.0" cy="217.8" r="2.5"/><circle cx="710.5" cy="218.7" r="2.5"/><circle cx="722.9" cy="219.0" r="2.5"/><circle cx="735.3" cy="220.2" r="2.5"/><circle cx="747.8" cy="221.0" r="2.5"/><circle cx="760.2" cy="222.3" r="2.5"/><circle cx="772.7" cy="223.3" r="2.5"/></g>
<path d="M447.0,7.0L448.5,7.7L450.0,8.5L451.5,9.3L453.0,10.1L454.5,10.9L456.0,11.8L457.5,12.7L459.0,13.6L460.5,14.6L462.0,15.6L463.5,16.6L465.0,17.6L466.5,18.7L468.0,19.8L469.5,20.9L471.0,22.0L472.5,23.2L474.0,24.5L475.5,25.7L477.0,27.0L478.5,28.3L480.0,29.7L481.5,31.1L483.0,32.6L484.5,34.0L486.0,35.6L487.5,37.1L489.0,38.7L490.5,40.4L492.0,42.1L493.5,43.8L495.0,45.6L496.5,47.5L498.0,49.3L499.5,51.3L501.0,53.3L502.5,55.3L504.0,57.4L505.5,59.5L507.0,61.7L508.5,63.9L510.0,66.2L511.5,68.4L513.0,70.7L514.5,73.0L516.0,75.3L517.5,77.6L519.0,79.9L520.5,82.2L522.0,84.4L523.5,86.7L525.0,89.0L526.5,91.3L528.0,93.5L529.5,95.8L531.0,98.1L532.5,100.3L534.0,102.6L535.5,104.9L537.0,107.2L538.5,109.4L540.0,111.7L541.5,114.1L543.0,116.4L544.5,118.8L546.0,121.3L547.5,123.7L549.0,126.3L550.5,128.8L552.0,131.2L553.5,133.7L555.0,136.1L556.5,138.4L558.0,140.7L559.5,143.0L561.0,145.2L562.5,147.3L564.0,149.5L565.5,151.5L567.0,153.6L568.5,155.5L570.0,157.5L571.5,159.4L573.0,161.2L574.5,163.0L576.0,164.8L577.5,166.5L579.0,168.2L580.5,169.9L582.0,171.6L583.5,173.3L585.0,174.9L586.5,176.5L588.0,178.1L589.5,179.7L591.0,181.2L592.5,182.6L594.0,184.1L595.5,185.5L597.0,186.8L598.5,188.1L600.0,189.4L601.5,190.6L603.0,191.8L604.5,192.9L606.0,194.0L607.5,195.1L609.0,196.2L610.5,197.2L612.0,198.2L613.5,199.1L615.0,200.1L616.5,201.0L618.0,201.8L619.5,202.7L621.0,203.5L622.5,204.2L624.0,205.0L625.5,205.7L627.0,206.4L628.5,207.1L630.0,207.7L631.5,208.3L633.0,208.9L634.5,209.5L636.0,210.1L637.5,210.6L639.0,211.1L640.5,211.6L642.0,212.1L643.5,212.6L645.0,213.0L646.5,213.5L648.0,213.9L649.5,214.3L651.0,214.7L652.5,215.1L654.0,215.5L655.5,215.9L657.0,216.2L658.5,216.5L660.0,216.9L661.5,217.2L663.0,217.5L664.5,217.8L666.0,218.1L667.5,218.4L669.0,218.6L670.5,218.9L672.0,219.1L673.5,219.3L675.0,219.5L676.5,219.8L678.0,220.0L679.5,220.1L681.0,220.3L682.5,220.5L684.0,220.7L685.5,220.8L687.0,221.0L688.5,221.1L690.0,221.3L691.5,221.4L693.0,221.6L694.5,221.7L696.0,221.8L697.5,222.0L699.0,222.1L700.5,222.2L702.0,222.3L703.5,222.4L705.0,222.6L706.5,222.7L708.0,222.8L709.5,222.9L711.0,223.0L712.5,223.1L714.0,223.2L715.5,223.3L717.0,223.4L718.5,223.6L720.0,223.7L721.5,223.8L723.0,223.9L724.5,224.0L726.0,224.1L727.5,224.2L729.0,224.3L730.5,224.4L732.0,224.5L733.5,224.7L735.0,224.8L736.5,224.9L738.0,225.0L739.5,225.2L741.0,225.3L742.5,225.4L744.0,225.6L745.5,225.7L747.0,225.9L748.5,226.0L750.0,226.2L751.5,226.3L753.0,226.5L754.5,226.7L756.0,226.9L757.5,227.1L759.0,227.3L760.5,227.5L762.0,227.7L763.5,227.9L765.0,228.1L766.5,228.3L768.0,228.6" stroke="#900000" stroke-width="3.0"/>
<g fill="#900000"><circle cx="449.0" cy="8.7" r="3.3"/><circle cx="461.4" cy="15.9" r="3.3"/><circle cx="473.9" cy="25.1" r="3.3"/><circle cx="486.4" cy="36.6" r="3.3"/><circle cx="498.8" cy="51.1" r="3.3"/><circle cx="511.2" cy="68.8" r="3.3"/><circle cx="523.7" cy="87.7" r="3.3"/><circle cx="536.1" cy="106.7" r="2.5"/><circle cx="548.6" cy="126.8" r="2.5"/><circle cx="561.0" cy="143.8" r="2.5"/><circle cx="573.5" cy="160.3" r="2.5"/><circle cx="586.0" cy="174.1" r="2.5"/><circle cx="598.4" cy="186.6" r="2.5"/><circle cx="610.9" cy="198.8" r="2.5"/><circle cx="623.3" cy="206.1" r="2.5"/><circle cx="635.8" cy="211.6" r="2.5"/><circle cx="648.2" cy="216.0" r="2.5"/><circle cx="660.6" cy="218.9" r="2.5"/><circle cx="673.1" cy="221.1" r="2.5"/><circle cx="685.5" cy="222.6" r="2.5"/><circle cx="698.0" cy="223.7" r="2.5"/><circle cx="710.5" cy="224.7" r="2.5"/><circle cx="722.9" cy="225.1" r="2.5"/><circle cx="735.3" cy="226.2" r="2.5"/><circle cx="747.8" cy="227.0" r="2.5"/><circle cx="760.2" cy="228.2" r="2.5"/><circle cx="772.7" cy="229.2" r="2.5"/></g>
<path d="M447.0,7.0L448.5,7.7L450.0,8.5L451.5,9.3L453.0,10.1L454.5,10.9L456.0,11.8L457.5,12.7L459.0,13.6L460.5,14.6L462.0,15.6L463.5,16.6L465.0,17.6L466.5,18.7L468.0,19.8L469.5,20.9L471.0,22.0L472.5,23.2L474.0,24.5L475.5,25.7L477.0,27.0L478.5,28.3L480.0,29.7L481.5,31.1L483.0,32.6L484.5,34.0L486.0,35.6L487.5,37.1L489.0,38.7L490.5,40.4L492.0,42.1L493.5,43.8L495.0,45.6L496.5,47.5L498.0,49.3L499.5,51.3L501.0,53.3L502.5,55.3L504.0,57.4L505.5,59.5L507.0,61.7L508.5,63.9L510.0,66.2L511.5,68.5L513.0,70.8L514.5,73.2L516.0,75.6L517.5,78.1L519.0,80.5L520.5,83.0L522.0,85.5L523.5,88.1L525.0,90.6L526.5,93.2L528.0,95.8L529.5,98.4L531.0,101.0L532.5,103.7L534.0,106.3L535.5,108.9L537.0,111.5L538.5,114.1L540.0,116.7L541.5,119.3L543.0,121.9L544.5,124.5L546.0,127.0L547.5,129.6L549.0,132.1L550.5,134.6L552.0,137.1L553.5,139.5L555.0,141.9L556.5,144.2L558.0,146.5L559.5,148.8L561.0,151.0L562.5,153.1L564.0,155.2L565.5,157.3L567.0,159.3L568.5,161.3L570.0,163.2L571.5,165.1L573.0,167.0L574.5,168.8L576.0,170.7L577.5,172.5L579.0,174.2L580.5,176.0L582.0,177.7L583.5,179.3L585.0,181.0L586.5,182.6L588.0,184.1L589.5,185.7L591.0,187.2L592.5,188.6L594.0,190.0L595.5,191.4L597.0,192.8L598.5,194.1L600.0,195.3L601.5,196.6L603.0,197.8L604.5,199.0L606.0,200.1L607.5,201.3L609.0,202.4L610.5,203.4L612.0,204.5L613.5,205.5L615.0,206.5L616.5,207.5L618.0,208.4L619.5,209.3L621.0,210.2L622.5,211.0L624.0,211.8L625.5,212.6L627.0,213.4L628.5,214.1L630.0,214.8L631.5,215.5L633.0,216.1L634.5,216.7L636.0,217.3L637.5,217.9L639.0,218.4L640.5,219.0L642.0,219.5L643.5,220.0L645.0,220.5L646.5,221.0L648.0,221.5L649.5,221.9L651.0,222.4L652.5,222.8L654.0,223.2L655.5,223.6L657.0,223.9L658.5,224.3L660.0,224.6L661.5,225.0L663.0,225.3L664.5,225.6L666.0,225.8L667.5,226.1L669.0,226.3L670.5,226.6L672.0,226.8L673.5,227.0L675.0,227.3L676.5,227.5L678.0,227.7L679.5,227.9L681.0,228.1L682.5,228.2L684.0,228.4L685.5,228.6L687.0,228.8L688.5,228.9L690.0,229.1L691.5,229.3L693.0,229.4L694.5,229.5L696.0,229.7L697.5,229.8L699.0,230.0L700.5,230.1L702.0,230.2L703.5,230.3L705.0,230.5L706.5,230.6L708.0,230.7L709.5,230.8L711.0,230.9L712.5,231.1L714.0,231.2L715.5,231.3L717.0,231.4L718.5,231.5L720.0,231.6L721.5,231.7L723.0,231.8L724.5,231.9L726.0,232.0L727.5,232.2L729.0,232.3L730.5,232.4L732.0,232.5L733.5,232.6L735.0,232.7L736.5,232.8L738.0,233.0L739.5,233.1L741.0,233.2L742.5,233.3L744.0,233.5L745.5,233.6L747.0,233.8L748.5,233.9L750.0,234.1L751.5,234.2L753.0,234.4L754.5,234.5L756.0,234.7L757.5,234.9L759.0,235.1L760.5,235.3L762.0,235.5L763.5,235.7L765.0,235.9L766.5,236.1L768.0,236.3" stroke="#c80000" stroke-width="3.0"/>
<g fill="#c80000"><circle cx="449.0" cy="9.0" r="1.5"/><circle cx="461.4" cy="17.4" r="1.5"/><circle cx="473.9" cy="26.3" r="1.5"/><circle cx="486.4" cy="37.5" r="1.5"/><circle cx="498.8" cy="52.1" r="1.5"/><circle cx="511.2" cy="68.9" r="1.5"/><circle cx="523.7" cy="90.5" r="1.5"/><circle cx="536.1" cy="110.5" r="2.5"/><circle cx="548.6" cy="132.1" r="2.5"/><circle cx="561.0" cy="149.6" r="2.5"/><circle cx="573.5" cy="166.1" r="2.5"/><circle cx="586.0" cy="180.2" r="2.5"/><circle cx="598.4" cy="192.6" r="2.5"/><circle cx="610.9" cy="205.0" r="2.5"/><circle cx="623.3" cy="212.9" r="2.5"/><circle cx="635.8" cy="218.9" r="2.5"/><circle cx="648.2" cy="224.0" r="2.5"/><circle cx="660.6" cy="227.3" r="2.5"/><circle cx="673.1" cy="229.5" r="2.5"/><circle cx="685.5" cy="231.1" r="2.5"/><circle cx="698.0" cy="232.4" r="2.5"/><circle cx="710.5" cy="233.4" r="2.5"/><circle cx="722.9" cy="233.9" r="2.5"/><circle cx="735.3" cy="234.9" r="2.5"/><circle cx="747.8" cy="235.8" r="2.5"/><circle cx="760.2" cy="236.9" r="2.5"/><circle cx="772.7" cy="237.8" r="2.5"/></g>
<path d="M447.0,7.0L448.5,7.7L450.0,8.5L451.5,9.3L453.0,10.1L454.5,10.9L456.0,11.8L457.5,12.7L459.0,13.6L460.5,14.6L462.0,15.6L463.5,16.6L465.0,17.6L466.5,18.7L468.0,19.8L469.5,20.9L471.0,22.0L472.5,23.2L474.0,24.5L475.5,25.7L477.0,27.0L478.5,28.3L480.0,29.7L481.5,31.1L483.0,32.6L484.5,34.0L486.0,35.6L487.5,37.1L489.0,38.7L490.5,40.4L492.0,42.1L493.5,43.8L495.0,45.6L496.5,47.5L498.0,49.3L499.5,51.3L501.0,53.3L502.5,55.3L504.0,57.4L505.5,59.5L507.0,61.7L508.5,63.9L510.0,66.2L511.5,68.5L513.0,70.9L514.5,73.4L516.0,75.8L517.5,78.4L519.0,81.0L520.5,83.6L522.0,86.3L523.5,89.0L525.0,91.7L526.5,94.5L528.0,97.3L529.5,100.1L531.0,103.0L532.5,105.9L534.0,108.8L535.5,111.6L537.0,114.5L538.5,117.3L540.0,120.2L541.5,123.0L543.0,125.7L544.5,128.5L546.0,131.2L547.5,133.9L549.0,136.5L550.5,139.1L552.0,141.7L553.5,144.2L555.0,146.6L556.5,149.0L558.0,151.4L559.5,153.7L561.0,156.0L562.5,158.2L564.0,160.4L565.5,162.6L567.0,164.7L568.5,166.7L570.0,168.8L571.5,170.8L573.0,172.7L574.5,174.7L576.0,176.6L577.5,178.5L579.0,180.3L580.5,182.1L582.0,183.8L583.5,185.5L585.0,187.2L586.5,188.8L588.0,190.4L589.5,191.9L591.0,193.4L592.5,194.8L594.0,196.2L595.5,197.6L597.0,198.9L598.5,200.2L600.0,201.4L601.5,202.6L603.0,203.8L604.5,205.0L606.0,206.1L607.5,207.1L609.0,208.2L610.5,209.2L612.0,210.2L613.5,211.1L615.0,212.1L616.5,212.9L618.0,213.8L619.5,214.7L621.0,215.5L622.5,216.3L624.0,217.0L625.5,217.7L627.0,218.4L628.5,219.1L630.0,219.8L631.5,220.4L633.0,221.0L634.5,221.6L636.0,222.1L637.5,222.7L639.0,223.2L640.5,223.7L642.0,224.2L643.5,224.6L645.0,225.1L646.5,225.5L648.0,226.0L649.5,226.4L651.0,226.8L652.5,227.2L654.0,227.6L655.5,227.9L657.0,228.3L658.5,228.6L660.0,228.9L661.5,229.3L663.0,229.6L664.5,229.9L666.0,230.1L667.5,230.4L669.0,230.7L670.5,230.9L672.0,231.2L673.5,231.4L675.0,231.6L676.5,231.9L678.0,232.1L679.5,232.3L681.0,232.5L682.5,232.7L684.0,232.9L685.5,233.1L687.0,233.3L688.5,233.4L690.0,233.6L691.5,233.8L693.0,233.9L694.5,234.1L696.0,234.2L697.5,234.4L699.0,234.5L700.5,234.7L702.0,234.8L703.5,234.9L705.0,235.1L706.5,235.2L708.0,235.3L709.5,235.4L711.0,235.6L712.5,235.7L714.0,235.8L715.5,235.9L717.0,236.0L718.5,236.1L720.0,236.3L721.5,236.4L723.0,236.5L724.5,236.6L726.0,236.7L727.5,236.8L729.0,236.9L730.5,237.0L732.0,237.2L733.5,237.3L735.0,237.4L736.5,237.5L738.0,237.6L739.5,237.8L741.0,237.9L742.5,238.0L744.0,238.2L745.5,238.3L747.0,238.4L748.5,238.6L750.0,238.7L751.5,238.9L753.0,239.0L754.5,239.2L756.0,239.3L757.5,239.5L759.0,239.7L760.5,239.9L762.0,240.1L763.5,240.3L765.0,240.5L766.5,240.7L768.0,240.9" stroke="#ff6000" stroke-width="3.0"/>
<g fill="#ff6000"><circle cx="449.0" cy="8.1" r="1.5"/><circle cx="461.4" cy="16.0" r="1.5"/><circle cx="473.9" cy="25.0" r="1.5"/><circle cx="486.4" cy="36.2" r="1.5"/><circle cx="498.8" cy="50.6" r="1.5"/><circle cx="511.2" cy="67.7" r="1.5"/><circle cx="523.7" cy="89.8" r="1.5"/><circle cx="536.1" cy="111.7" r="2.5"/><circle cx="548.6" cy="135.0" r="2.5"/><circle cx="561.0" cy="153.3" r="2.5"/><circle cx="573.5" cy="170.8" r="2.5"/><circle cx="586.0" cy="186.4" r="2.5"/><circle cx="598.4" cy="199.3" r="2.5"/><circle cx="610.9" cy="211.2" r="2.5"/><circle cx="623.3" cy="218.8" r="2.5"/><circle cx="635.8" cy="224.6" r="2.5"/><circle cx="648.2" cy="229.1" r="2.5"/><circle cx="660.6" cy="232.3" r="2.5"/><circle cx="673.1" cy="234.6" r="2.5"/><circle cx="685.5" cy="236.3" r="2.5"/><circle cx="698.0" cy="237.5" r="2.5"/><circle cx="710.5" cy="238.6" r="2.5"/><circle cx="722.9" cy="239.2" r="2.5"/><circle cx="735.3" cy="240.1" r="2.5"/><circle cx="747.8" cy="241.0" r="2.5"/><circle cx="760.2" cy="242.1" r="2.5"/><circle cx="772.7" cy="242.9" r="2.5"/></g>
<path d="M447.0,7.0L448.5,7.7L450.0,8.5L451.5,9.3L453.0,10.1L454.5,10.9L456.0,11.8L457.5,12.7L459.0,13.6L460.5,14.6L462.0,15.6L463.5,16.6L465.0,17.6L466.5,18.7L468.0,19.8L469.5,20.9L471.0,22.0L472.5,23.2L474.0,24.5L475.5,25.7L477.0,27.0L478.5,28.3L480.0,29.7L481.5,31.1L483.0,32.6L484.5,34.0L486.0,35.6L487.5,37.1L489.0,38.7L490.5,40.4L492.0,42.1L493.5,43.8L495.0,45.6L496.5,47.5L498.0,49.3L499.5,51.3L501.0,53.3L502.5,55.3L504.0,57.4L505.5,59.5L507.0,61.7L508.5,63.9L510.0,66.2L511.5,68.5L513.0,70.9L514.5,73.4L516.0,75.8L517.5,78.4L519.0,81.0L520.5,83.6L522.0,86.3L523.5,89.0L525.0,91.7L526.5,94.5L528.0,97.3L529.5,100.1L531.0,103.0L532.5,105.9L534.0,108.8L535.5,111.7L537.0,114.6L538.5,117.6L540.0,120.5L541.5,123.4L543.0,126.3L544.5,129.2L546.0,132.1L547.5,134.9L549.0,137.7L550.5,140.5L552.0,143.3L553.5,146.0L555.0,148.7L556.5,151.4L558.0,154.0L559.5,156.5L561.0,159.0L562.5,161.5L564.0,163.9L565.5,166.3L567.0,168.6L568.5,170.8L570.0,173.1L571.5,175.2L573.0,177.3L574.5,179.4L576.0,181.3L577.5,183.3L579.0,185.2L580.5,187.0L582.0,188.8L583.5,190.5L585.0,192.2L586.5,193.8L588.0,195.3L589.5,196.9L591.0,198.3L592.5,199.8L594.0,201.1L595.5,202.5L597.0,203.7L598.5,205.0L600.0,206.2L601.5,207.3L603.0,208.4L604.5,209.5L606.0,210.5L607.5,211.5L609.0,212.5L610.5,213.4L612.0,214.3L613.5,215.2L615.0,216.0L616.5,216.8L618.0,217.6L619.5,218.3L621.0,219.1L622.5,219.8L624.0,220.5L625.5,221.1L627.0,221.8L628.5,222.4L630.0,223.0L631.5,223.6L633.0,224.1L634.5,224.7L636.0,225.2L637.5,225.7L639.0,226.2L640.5,226.7L642.0,227.2L643.5,227.6L645.0,228.1L646.5,228.5L648.0,228.9L649.5,229.3L651.0,229.7L652.5,230.1L654.0,230.5L655.5,230.8L657.0,231.2L658.5,231.5L660.0,231.8L661.5,232.1L663.0,232.4L664.5,232.7L666.0,233.0L667.5,233.3L669.0,233.5L670.5,233.8L672.0,234.1L673.5,234.3L675.0,234.5L676.5,234.8L678.0,235.0L679.5,235.2L681.0,235.4L682.5,235.6L684.0,235.8L685.5,236.0L687.0,236.1L688.5,236.3L690.0,236.5L691.5,236.7L693.0,236.8L694.5,237.0L696.0,237.1L697.5,237.3L699.0,237.4L700.5,237.6L702.0,237.7L703.5,237.8L705.0,237.9L706.5,238.1L708.0,238.2L709.5,238.3L711.0,238.4L712.5,238.6L714.0,238.7L715.5,238.8L717.0,238.9L718.5,239.0L720.0,239.1L721.5,239.2L723.0,239.3L724.5,239.5L726.0,239.6L727.5,239.7L729.0,239.8L730.5,239.9L732.0,240.0L733.5,240.1L735.0,240.2L736.5,240.4L738.0,240.5L739.5,240.6L741.0,240.7L742.5,240.8L744.0,241.0L745.5,241.1L747.0,241.2L748.5,241.4L750.0,241.5L751.5,241.7L753.0,241.8L754.5,242.0L756.0,242.1L757.5,242.3L759.0,242.5L760.5,242.6L762.0,242.8L763.5,243.0L765.0,243.2L766.5,243.4L768.0,243.6" stroke="#fca050" stroke-width="3.0"/>
<g fill="#fca050"><circle cx="449.0" cy="8.7" r="2.2"/><circle cx="461.4" cy="15.9" r="2.2"/><circle cx="473.9" cy="25.1" r="2.2"/><circle cx="486.4" cy="36.6" r="2.2"/><circle cx="498.8" cy="51.1" r="2.2"/><circle cx="511.2" cy="68.9" r="2.2"/><circle cx="523.7" cy="90.0" r="2.2"/><circle cx="536.1" cy="112.1" r="2.5"/><circle cx="548.6" cy="136.4" r="2.5"/><circle cx="561.0" cy="156.6" r="2.5"/><circle cx="573.5" cy="175.6" r="2.5"/><circle cx="586.0" cy="191.6" r="2.5"/><circle cx="598.4" cy="204.3" r="2.5"/><circle cx="610.9" cy="215.6" r="2.5"/><circle cx="623.3" cy="222.4" r="2.5"/><circle cx="635.8" cy="227.9" r="2.5"/><circle cx="648.2" cy="232.1" r="2.5"/><circle cx="660.6" cy="235.2" r="2.5"/><circle cx="673.1" cy="237.5" r="2.5"/><circle cx="685.5" cy="239.2" r="2.5"/><circle cx="698.0" cy="240.4" r="2.5"/><circle cx="710.5" cy="241.5" r="2.5"/><circle cx="722.9" cy="242.1" r="2.5"/><circle cx="735.3" cy="243.0" r="2.5"/><circle cx="747.8" cy="243.8" r="2.5"/><circle cx="760.2" cy="244.9" r="2.5"/><circle cx="772.7" cy="245.7" r="2.5"/></g>
</g>
<line x1="68" y1="280.1" x2="385" y2="280.1" stroke="#777" stroke-width="0.9" stroke-dasharray="3.5 2.2"/>
<g clip-path="url(#cra)" fill="none" stroke-linejoin="round">
<path d="M67.2,269.2L78.1,277.1L89.1,278.8L100.0,281.0L111.0,287.7L121.9,288.8L132.8,288.9L143.8,281.4L154.8,275.1L165.7,271.6L176.7,272.1L187.6,273.9L198.5,275.4L209.5,280.1L220.4,279.8L231.4,279.6L242.3,281.5L253.3,281.7L264.2,281.9L275.2,282.2L286.1,282.9L297.1,282.6L308.0,282.0L319.0,282.4L329.9,283.0L340.9,282.3L351.9,281.0L362.8,280.7L373.8,280.2L384.7,278.3" stroke="#2a0000" stroke-width="2.6"/>
<path d="M67.2,271.2L78.1,281.3L89.1,283.7L100.0,284.5L111.0,287.4L121.9,284.5L132.8,283.4L143.8,276.3L154.8,271.1L165.7,267.6L176.7,268.2L187.6,270.5L198.5,271.6L209.5,274.9L220.4,277.4L231.4,280.9L242.3,282.2L253.3,283.1L264.2,284.2L275.2,282.8L286.1,284.6L297.1,285.0L308.0,283.0L319.0,284.0L329.9,285.3L340.9,283.0L351.9,282.6L362.8,282.7L373.8,282.0L384.7,279.7" stroke="#960000" stroke-width="3"/>
<path d="M67.2,270.6L78.1,280.3L89.1,283.3L100.0,284.0L111.0,286.2L121.9,285.2L132.8,284.2L143.8,277.2L154.8,272.3L165.7,267.8L176.7,268.4L187.6,270.2L198.5,272.6L209.5,275.8L220.4,277.8L231.4,280.5L242.3,282.4L253.3,283.8L264.2,282.5L275.2,284.0L286.1,284.1L297.1,283.8L308.0,283.6L319.0,283.7L329.9,284.1L340.9,282.5L351.9,281.5L362.8,282.4L373.8,281.5L384.7,279.9" stroke="#a80000" stroke-width="3"/>
<path d="M67.2,270.0L78.1,280.2L89.1,282.4L100.0,283.6L111.0,286.8L121.9,284.2L132.8,284.9L143.8,278.9L154.8,273.4L165.7,268.9L176.7,269.8L187.6,270.3L198.5,272.4L209.5,276.3L220.4,278.5L231.4,279.9L242.3,281.7L253.3,282.5L264.2,282.6L275.2,282.9L286.1,283.3L297.1,283.5L308.0,283.0L319.0,284.0L329.9,284.6L340.9,283.4L351.9,282.0L362.8,282.3L373.8,282.0L384.7,279.7" stroke="#c00800" stroke-width="3"/>
<path d="M67.2,269.2L78.1,280.0L89.1,282.1L100.0,284.8L111.0,286.2L121.9,284.9L132.8,285.0L143.8,279.1L154.8,272.7L165.7,270.2L176.7,269.1L187.6,271.6L198.5,274.0L209.5,276.6L220.4,278.3L231.4,280.3L242.3,282.8L253.3,283.0L264.2,281.6L275.2,282.8L286.1,283.6L297.1,282.5L308.0,282.8L319.0,283.4L329.9,284.4L340.9,283.9L351.9,281.0L362.8,280.9L373.8,281.3L384.7,278.3" stroke="#e02010" stroke-width="3"/>
<path d="M67.2,268.0L78.1,278.3L89.1,281.9L100.0,284.6L111.0,287.6L121.9,284.3L132.8,285.1L143.8,280.1L154.8,275.5L165.7,270.7L176.7,270.7L187.6,273.8L198.5,275.1L209.5,276.8L220.4,278.2L231.4,280.1L242.3,282.5L253.3,281.4L264.2,282.5L275.2,283.1L286.1,283.3L297.1,282.3L308.0,281.4L319.0,282.3L329.9,283.9L340.9,281.6L351.9,280.3L362.8,280.7L373.8,279.6L384.7,277.9" stroke="#f04010" stroke-width="3"/>
<path d="M67.2,266.3L78.1,277.0L89.1,282.3L100.0,283.9L111.0,286.4L121.9,285.4L132.8,286.0L143.8,281.7L154.8,277.1L165.7,272.4L176.7,272.1L187.6,275.2L198.5,276.4L209.5,278.1L220.4,279.1L231.4,280.2L242.3,281.5L253.3,282.2L264.2,280.6L275.2,281.4L286.1,282.2L297.1,281.6L308.0,282.5L319.0,281.2L329.9,283.0L340.9,281.1L351.9,280.4L362.8,280.3L373.8,279.3L384.7,278.0" stroke="#f86010" stroke-width="3"/>
<path d="M67.2,264.7L78.1,275.3L89.1,281.7L100.0,283.4L111.0,286.7L121.9,285.9L132.8,286.4L143.8,281.4L154.8,278.5L165.7,275.4L176.7,274.1L187.6,275.8L198.5,276.3L209.5,278.9L220.4,278.4L231.4,279.2L242.3,281.6L253.3,280.6L264.2,281.3L275.2,281.5L286.1,282.5L297.1,280.9L308.0,281.6L319.0,282.4L329.9,282.3L340.9,280.9L351.9,280.5L362.8,280.2L373.8,279.6L384.7,276.7" stroke="#f88020" stroke-width="3"/>
<path d="M67.2,263.1L78.1,275.3L89.1,280.5L100.0,284.2L111.0,286.6L121.9,287.6L132.8,288.1L143.8,283.5L154.8,279.7L165.7,275.9L176.7,276.2L187.6,277.1L198.5,278.2L209.5,279.0L220.4,279.9L231.4,278.9L242.3,280.1L253.3,279.5L264.2,280.7L275.2,281.3L286.1,281.7L297.1,280.6L308.0,281.1L319.0,280.2L329.9,282.1L340.9,280.9L351.9,279.1L362.8,279.3L373.8,279.0L384.7,276.3" stroke="#fca050" stroke-width="3"/>
</g>
<line x1="449" y1="280.1" x2="765.5" y2="280.1" stroke="#777" stroke-width="0.9" stroke-dasharray="3.5 2.2"/>
<g clip-path="url(#crb)" fill="none" stroke-linejoin="round">
<path d="M449.0,283.0L461.4,286.5L473.9,285.5L486.4,284.0L498.8,284.4L511.2,281.0L523.7,285.8L536.1,279.5L548.6,280.8L561.0,272.2L573.5,271.9L586.0,272.0L598.4,273.0L610.9,278.0L623.3,279.5L635.8,280.0L648.2,281.0L660.6,280.5L673.1,280.2L685.5,280.0L698.0,279.8L710.5,279.4L722.9,276.0L735.3,277.1L747.8,275.0L760.2,273.5L772.7,272.0" stroke="#000000" stroke-width="3"/>
<path d="M449.0,273.2L461.4,278.5L473.9,278.8L486.4,276.7L498.8,278.8L511.2,277.5L523.7,280.0L536.1,276.0L548.6,277.0L561.0,274.6L573.5,275.3L586.0,275.3L598.4,276.9L610.9,281.6L623.3,282.0L635.8,281.0L648.2,281.0L660.6,280.5L673.1,280.2L685.5,280.0L698.0,279.8L710.5,279.4L722.9,276.0L735.3,277.1L747.8,275.0L760.2,273.5L772.7,272.0" stroke="#280000" stroke-width="3"/>
<path d="M449.0,284.5L461.4,288.0L473.9,287.0L486.4,285.5L498.8,285.9L511.2,282.5L523.7,287.3L536.1,281.0L548.6,282.3L561.0,272.2L573.5,271.9L586.0,270.6L598.4,272.2L610.9,276.9L623.3,277.7L635.8,279.3L648.2,281.5L660.6,280.9L673.1,280.2L685.5,280.0L698.0,279.6L710.5,279.4L722.9,276.0L735.3,277.1L747.8,275.0L760.2,273.5L772.7,272.0" stroke="#900000" stroke-width="3"/>
<path d="M449.0,281.6L461.4,286.5L473.9,285.5L486.4,283.7L498.8,284.4L511.2,280.9L523.7,285.8L536.1,279.5L548.6,280.2L561.0,272.2L573.5,271.9L586.0,270.6L598.4,272.2L610.9,276.9L623.3,277.7L635.8,279.3L648.2,284.7L660.6,284.7L673.1,284.7L685.5,284.7L698.0,284.7L710.5,284.7L722.9,281.7L735.3,282.5L747.8,281.0L760.2,279.5L772.7,278.0" stroke="#c80000" stroke-width="3"/>
<path d="M449.0,278.1L461.4,280.9L473.9,280.2L486.4,278.8L498.8,278.8L511.2,276.0L523.7,279.5L536.1,273.2L548.6,274.6L561.0,266.7L573.5,267.5L586.0,270.6L598.4,274.6L610.9,280.0L623.3,282.4L635.8,285.5L648.2,288.6L660.6,289.5L673.1,290.0L685.5,289.5L698.0,289.0L710.5,288.6L722.9,286.3L735.3,286.3L747.8,285.0L760.2,283.5L772.7,282.0" stroke="#ff6000" stroke-width="3"/>
<path d="M449.0,279.5L461.4,282.3L473.9,281.5L486.4,280.0L498.8,280.0L511.2,277.5L523.7,281.0L536.1,274.5L548.6,275.5L561.0,268.0L573.5,268.5L586.0,271.5L598.4,275.5L610.9,281.0L623.3,283.5L635.8,286.5L648.2,289.3L660.6,290.1L673.1,290.1L685.5,289.5L698.0,288.8L710.5,288.6L722.9,286.3L735.3,286.3L747.8,285.0L760.2,283.5L772.7,282.0" stroke="#fca050" stroke-width="3"/>
</g>
<rect x="232.3" y="8.6" width="113.9" height="111.3" fill="#fff" stroke="#000" stroke-width="1.3"/>
<circle cx="240.9" cy="108.2" r="3.6" fill="#000000"/>
<circle cx="246.2" cy="109.0" r="3.6" fill="#180000"/>
<circle cx="251.2" cy="108.4" r="3.6" fill="#2f0000"/>
<circle cx="254.6" cy="107.6" r="3.6" fill="#470000"/>
<circle cx="258.5" cy="106.2" r="3.6" fill="#5e0000"/>
<circle cx="263.3" cy="103.4" r="3.6" fill="#760000"/>
<circle cx="285.0" cy="97.2" r="3.6" fill="#8d0000"/>
<circle cx="293.9" cy="94.3" r="3.6" fill="#a50000"/>
<circle cx="301.2" cy="84.6" r="3.6" fill="#bc0000"/>
<circle cx="308.0" cy="69.2" r="3.6" fill="#d41b00"/>
<circle cx="314.4" cy="49.0" r="3.6" fill="#eb3b00"/>
<circle cx="319.7" cy="37.4" r="3.6" fill="#ff5a00"/>
<circle cx="326.7" cy="21.0" r="3.6" fill="#ff7a00"/>
<circle cx="334.0" cy="16.4" r="3.6" fill="#ff9933"/>
<rect x="615.5" y="8.7" width="114.4" height="110.5" fill="#fff" stroke="#000" stroke-width="1.3"/>
<circle cx="620.6" cy="114.6" r="3.6" fill="#000000"/>
<circle cx="626.1" cy="109.1" r="3.6" fill="#480000"/>
<circle cx="642.5" cy="93.5" r="3.6" fill="#900000"/>
<circle cx="669.8" cy="66.3" r="3.6" fill="#d00404"/>
<circle cx="724.5" cy="13.6" r="3.6" fill="#ff6000"/>
<rect x="68" y="2" width="317" height="247" stroke="#111" stroke-width="1.25" fill="none"/>
<rect x="68" y="249" width="317" height="62" stroke="#111" stroke-width="1.25" fill="none"/>
<rect x="449" y="2" width="316.5" height="247" stroke="#111" stroke-width="1.25" fill="none"/>
<rect x="449" y="249" width="316.5" height="62" stroke="#111" stroke-width="1.25" fill="none"/>
<g stroke="#000"><line x1="60.50" y1="8.00" x2="68.00" y2="8.00" stroke-width="1.4"/><line x1="60.50" y1="66.00" x2="68.00" y2="66.00" stroke-width="1.4"/><line x1="60.50" y1="124.00" x2="68.00" y2="124.00" stroke-width="1.4"/><line x1="60.50" y1="182.00" x2="68.00" y2="182.00" stroke-width="1.4"/><line x1="60.50" y1="240.00" x2="68.00" y2="240.00" stroke-width="1.4"/><line x1="60.50" y1="264.50" x2="68.00" y2="264.50" stroke-width="1.4"/><line x1="60.50" y1="280.10" x2="68.00" y2="280.10" stroke-width="1.4"/><line x1="60.50" y1="295.70" x2="68.00" y2="295.70" stroke-width="1.4"/><line x1="441.50" y1="8.40" x2="449.00" y2="8.40" stroke-width="1.4"/><line x1="441.50" y1="74.40" x2="449.00" y2="74.40" stroke-width="1.4"/><line x1="441.50" y1="140.40" x2="449.00" y2="140.40" stroke-width="1.4"/><line x1="441.50" y1="206.40" x2="449.00" y2="206.40" stroke-width="1.4"/><line x1="441.50" y1="264.50" x2="449.00" y2="264.50" stroke-width="1.4"/><line x1="441.50" y1="280.10" x2="449.00" y2="280.10" stroke-width="1.4"/><line x1="441.50" y1="295.70" x2="449.00" y2="295.70" stroke-width="1.4"/><line x1="68.00" y1="249.00" x2="68.00" y2="256.60" stroke-width="1.7"/><line x1="68.00" y1="311.00" x2="68.00" y2="318.60" stroke-width="1.7"/><line x1="91.86" y1="249.00" x2="91.86" y2="254.20" stroke-width="1.6"/><line x1="91.86" y1="311.00" x2="91.86" y2="315.80" stroke-width="1.6"/><line x1="105.81" y1="249.00" x2="105.81" y2="254.20" stroke-width="1.6"/><line x1="105.81" y1="311.00" x2="105.81" y2="315.80" stroke-width="1.6"/><line x1="115.71" y1="249.00" x2="115.71" y2="254.20" stroke-width="1.6"/><line x1="115.71" y1="311.00" x2="115.71" y2="315.80" stroke-width="1.6"/><line x1="123.39" y1="249.00" x2="123.39" y2="254.20" stroke-width="1.6"/><line x1="123.39" y1="311.00" x2="123.39" y2="315.80" stroke-width="1.6"/><line x1="129.67" y1="249.00" x2="129.67" y2="254.20" stroke-width="1.6"/><line x1="129.67" y1="311.00" x2="129.67" y2="315.80" stroke-width="1.6"/><line x1="134.97" y1="249.00" x2="134.97" y2="254.20" stroke-width="1.6"/><line x1="134.97" y1="311.00" x2="134.97" y2="315.80" stroke-width="1.6"/><line x1="139.57" y1="249.00" x2="139.57" y2="254.20" stroke-width="1.6"/><line x1="139.57" y1="311.00" x2="139.57" y2="315.80" stroke-width="1.6"/><line x1="143.62" y1="249.00" x2="143.62" y2="254.20" stroke-width="1.6"/><line x1="143.62" y1="311.00" x2="143.62" y2="315.80" stroke-width="1.6"/><line x1="147.25" y1="249.00" x2="147.25" y2="256.60" stroke-width="1.7"/><line x1="147.25" y1="311.00" x2="147.25" y2="318.60" stroke-width="1.7"/><line x1="171.11" y1="249.00" x2="171.11" y2="254.20" stroke-width="1.6"/><line x1="171.11" y1="311.00" x2="171.11" y2="315.80" stroke-width="1.6"/><line x1="185.06" y1="249.00" x2="185.06" y2="254.20" stroke-width="1.6"/><line x1="185.06" y1="311.00" x2="185.06" y2="315.80" stroke-width="1.6"/><line x1="194.96" y1="249.00" x2="194.96" y2="254.20" stroke-width="1.6"/><line x1="194.96" y1="311.00" x2="194.96" y2="315.80" stroke-width="1.6"/><line x1="202.64" y1="249.00" x2="202.64" y2="254.20" stroke-width="1.6"/><line x1="202.64" y1="311.00" x2="202.64" y2="315.80" stroke-width="1.6"/><line x1="208.92" y1="249.00" x2="208.92" y2="254.20" stroke-width="1.6"/><line x1="208.92" y1="311.00" x2="208.92" y2="315.80" stroke-width="1.6"/><line x1="214.22" y1="249.00" x2="214.22" y2="254.20" stroke-width="1.6"/><line x1="214.22" y1="311.00" x2="214.22" y2="315.80" stroke-width="1.6"/><line x1="218.82" y1="249.00" x2="218.82" y2="254.20" stroke-width="1.6"/><line x1="218.82" y1="311.00" x2="218.82" y2="315.80" stroke-width="1.6"/><line x1="222.87" y1="249.00" x2="222.87" y2="254.20" stroke-width="1.6"/><line x1="222.87" y1="311.00" x2="222.87" y2="315.80" stroke-width="1.6"/><line x1="226.50" y1="249.00" x2="226.50" y2="256.60" stroke-width="1.7"/><line x1="226.50" y1="311.00" x2="226.50" y2="318.60" stroke-width="1.7"/><line x1="250.36" y1="249.00" x2="250.36" y2="254.20" stroke-width="1.6"/><line x1="250.36" y1="311.00" x2="250.36" y2="315.80" stroke-width="1.6"/><line x1="264.31" y1="249.00" x2="264.31" y2="254.20" stroke-width="1.6"/><line x1="264.31" y1="311.00" x2="264.31" y2="315.80" stroke-width="1.6"/><line x1="274.21" y1="249.00" x2="274.21" y2="254.20" stroke-width="1.6"/><line x1="274.21" y1="311.00" x2="274.21" y2="315.80" stroke-width="1.6"/><line x1="281.89" y1="249.00" x2="281.89" y2="254.20" stroke-width="1.6"/><line x1="281.89" y1="311.00" x2="281.89" y2="315.80" stroke-width="1.6"/><line x1="288.17" y1="249.00" x2="288.17" y2="254.20" stroke-width="1.6"/><line x1="288.17" y1="311.00" x2="288.17" y2="315.80" stroke-width="1.6"/><line x1="293.47" y1="249.00" x2="293.47" y2="254.20" stroke-width="1.6"/><line x1="293.47" y1="311.00" x2="293.47" y2="315.80" stroke-width="1.6"/><line x1="298.07" y1="249.00" x2="298.07" y2="254.20" stroke-width="1.6"/><line x1="298.07" y1="311.00" x2="298.07" y2="315.80" stroke-width="1.6"/><line x1="302.12" y1="249.00" x2="302.12" y2="254.20" stroke-width="1.6"/><line x1="302.12" y1="311.00" x2="302.12" y2="315.80" stroke-width="1.6"/><line x1="305.75" y1="249.00" x2="305.75" y2="256.60" stroke-width="1.7"/><line x1="305.75" y1="311.00" x2="305.75" y2="318.60" stroke-width="1.7"/><line x1="329.61" y1="249.00" x2="329.61" y2="254.20" stroke-width="1.6"/><line x1="329.61" y1="311.00" x2="329.61" y2="315.80" stroke-width="1.6"/><line x1="343.56" y1="249.00" x2="343.56" y2="254.20" stroke-width="1.6"/><line x1="343.56" y1="311.00" x2="343.56" y2="315.80" stroke-width="1.6"/><line x1="353.46" y1="249.00" x2="353.46" y2="254.20" stroke-width="1.6"/><line x1="353.46" y1="311.00" x2="353.46" y2="315.80" stroke-width="1.6"/><line x1="361.14" y1="249.00" x2="361.14" y2="254.20" stroke-width="1.6"/><line x1="361.14" y1="311.00" x2="361.14" y2="315.80" stroke-width="1.6"/><line x1="367.42" y1="249.00" x2="367.42" y2="254.20" stroke-width="1.6"/><line x1="367.42" y1="311.00" x2="367.42" y2="315.80" stroke-width="1.6"/><line x1="372.72" y1="249.00" x2="372.72" y2="254.20" stroke-width="1.6"/><line x1="372.72" y1="311.00" x2="372.72" y2="315.80" stroke-width="1.6"/><line x1="377.32" y1="249.00" x2="377.32" y2="254.20" stroke-width="1.6"/><line x1="377.32" y1="311.00" x2="377.32" y2="315.80" stroke-width="1.6"/><line x1="381.37" y1="249.00" x2="381.37" y2="254.20" stroke-width="1.6"/><line x1="381.37" y1="311.00" x2="381.37" y2="315.80" stroke-width="1.6"/><line x1="385.00" y1="249.00" x2="385.00" y2="256.60" stroke-width="1.7"/><line x1="385.00" y1="311.00" x2="385.00" y2="318.60" stroke-width="1.7"/><line x1="474.80" y1="249.00" x2="474.80" y2="254.20" stroke-width="1.6"/><line x1="474.80" y1="311.00" x2="474.80" y2="315.80" stroke-width="1.6"/><line x1="490.77" y1="249.00" x2="490.77" y2="254.20" stroke-width="1.6"/><line x1="490.77" y1="311.00" x2="490.77" y2="315.80" stroke-width="1.6"/><line x1="502.11" y1="249.00" x2="502.11" y2="254.20" stroke-width="1.6"/><line x1="502.11" y1="311.00" x2="502.11" y2="315.80" stroke-width="1.6"/><line x1="510.90" y1="249.00" x2="510.90" y2="254.20" stroke-width="1.6"/><line x1="510.90" y1="311.00" x2="510.90" y2="315.80" stroke-width="1.6"/><line x1="518.08" y1="249.00" x2="518.08" y2="254.20" stroke-width="1.6"/><line x1="518.08" y1="311.00" x2="518.08" y2="315.80" stroke-width="1.6"/><line x1="524.15" y1="249.00" x2="524.15" y2="254.20" stroke-width="1.6"/><line x1="524.15" y1="311.00" x2="524.15" y2="315.80" stroke-width="1.6"/><line x1="529.41" y1="249.00" x2="529.41" y2="254.20" stroke-width="1.6"/><line x1="529.41" y1="311.00" x2="529.41" y2="315.80" stroke-width="1.6"/><line x1="534.05" y1="249.00" x2="534.05" y2="254.20" stroke-width="1.6"/><line x1="534.05" y1="311.00" x2="534.05" y2="315.80" stroke-width="1.6"/><line x1="538.20" y1="249.00" x2="538.20" y2="256.60" stroke-width="1.7"/><line x1="538.20" y1="311.00" x2="538.20" y2="318.60" stroke-width="1.7"/><line x1="565.50" y1="249.00" x2="565.50" y2="254.20" stroke-width="1.6"/><line x1="565.50" y1="311.00" x2="565.50" y2="315.80" stroke-width="1.6"/><line x1="581.47" y1="249.00" x2="581.47" y2="254.20" stroke-width="1.6"/><line x1="581.47" y1="311.00" x2="581.47" y2="315.80" stroke-width="1.6"/><line x1="592.81" y1="249.00" x2="592.81" y2="254.20" stroke-width="1.6"/><line x1="592.81" y1="311.00" x2="592.81" y2="315.80" stroke-width="1.6"/><line x1="601.60" y1="249.00" x2="601.60" y2="254.20" stroke-width="1.6"/><line x1="601.60" y1="311.00" x2="601.60" y2="315.80" stroke-width="1.6"/><line x1="608.78" y1="249.00" x2="608.78" y2="254.20" stroke-width="1.6"/><line x1="608.78" y1="311.00" x2="608.78" y2="315.80" stroke-width="1.6"/><line x1="614.85" y1="249.00" x2="614.85" y2="254.20" stroke-width="1.6"/><line x1="614.85" y1="311.00" x2="614.85" y2="315.80" stroke-width="1.6"/><line x1="620.11" y1="249.00" x2="620.11" y2="254.20" stroke-width="1.6"/><line x1="620.11" y1="311.00" x2="620.11" y2="315.80" stroke-width="1.6"/><line x1="624.75" y1="249.00" x2="624.75" y2="254.20" stroke-width="1.6"/><line x1="624.75" y1="311.00" x2="624.75" y2="315.80" stroke-width="1.6"/><line x1="628.90" y1="249.00" x2="628.90" y2="256.60" stroke-width="1.7"/><line x1="628.90" y1="311.00" x2="628.90" y2="318.60" stroke-width="1.7"/><line x1="656.20" y1="249.00" x2="656.20" y2="254.20" stroke-width="1.6"/><line x1="656.20" y1="311.00" x2="656.20" y2="315.80" stroke-width="1.6"/><line x1="672.17" y1="249.00" x2="672.17" y2="254.20" stroke-width="1.6"/><line x1="672.17" y1="311.00" x2="672.17" y2="315.80" stroke-width="1.6"/><line x1="683.51" y1="249.00" x2="683.51" y2="254.20" stroke-width="1.6"/><line x1="683.51" y1="311.00" x2="683.51" y2="315.80" stroke-width="1.6"/><line x1="692.30" y1="249.00" x2="692.30" y2="254.20" stroke-width="1.6"/><line x1="692.30" y1="311.00" x2="692.30" y2="315.80" stroke-width="1.6"/><line x1="699.48" y1="249.00" x2="699.48" y2="254.20" stroke-width="1.6"/><line x1="699.48" y1="311.00" x2="699.48" y2="315.80" stroke-width="1.6"/><line x1="705.55" y1="249.00" x2="705.55" y2="254.20" stroke-width="1.6"/><line x1="705.55" y1="311.00" x2="705.55" y2="315.80" stroke-width="1.6"/><line x1="710.81" y1="249.00" x2="710.81" y2="254.20" stroke-width="1.6"/><line x1="710.81" y1="311.00" x2="710.81" y2="315.80" stroke-width="1.6"/><line x1="715.45" y1="249.00" x2="715.45" y2="254.20" stroke-width="1.6"/><line x1="715.45" y1="311.00" x2="715.45" y2="315.80" stroke-width="1.6"/><line x1="719.60" y1="249.00" x2="719.60" y2="256.60" stroke-width="1.7"/><line x1="719.60" y1="311.00" x2="719.60" y2="318.60" stroke-width="1.7"/><line x1="746.90" y1="249.00" x2="746.90" y2="254.20" stroke-width="1.6"/><line x1="746.90" y1="311.00" x2="746.90" y2="315.80" stroke-width="1.6"/><line x1="762.87" y1="249.00" x2="762.87" y2="254.20" stroke-width="1.6"/><line x1="762.87" y1="311.00" x2="762.87" y2="315.80" stroke-width="1.6"/><line x1="228.50" y1="13.10" x2="232.30" y2="13.10" stroke-width="1.2"/><line x1="228.50" y1="63.90" x2="232.30" y2="63.90" stroke-width="1.2"/><line x1="228.50" y1="114.60" x2="232.30" y2="114.60" stroke-width="1.2"/><line x1="237.80" y1="119.90" x2="237.80" y2="123.60" stroke-width="1.2"/><line x1="267.14" y1="119.90" x2="267.14" y2="123.60" stroke-width="1.2"/><line x1="296.48" y1="119.90" x2="296.48" y2="123.60" stroke-width="1.2"/><line x1="325.82" y1="119.90" x2="325.82" y2="123.60" stroke-width="1.2"/><line x1="611.50" y1="86.10" x2="615.50" y2="86.10" stroke-width="1.2"/><line x1="611.50" y1="50.70" x2="615.50" y2="50.70" stroke-width="1.2"/><line x1="611.50" y1="15.30" x2="615.50" y2="15.30" stroke-width="1.2"/><line x1="642.91" y1="119.20" x2="642.91" y2="123.00" stroke-width="1.2"/><line x1="670.72" y1="119.20" x2="670.72" y2="123.00" stroke-width="1.2"/><line x1="698.53" y1="119.20" x2="698.53" y2="123.00" stroke-width="1.2"/><line x1="726.34" y1="119.20" x2="726.34" y2="123.00" stroke-width="1.2"/></g>
<g font-family='"Liberation Sans", sans-serif' fill="#111">
<text x="58.40" y="13.30" font-size="14.40" text-anchor="end">1</text>
<text x="58.40" y="71.30" font-size="14.40" text-anchor="end" textLength="22.3" lengthAdjust="spacingAndGlyphs">0.8</text>
<text x="58.40" y="129.30" font-size="14.40" text-anchor="end" textLength="22.3" lengthAdjust="spacingAndGlyphs">0.6</text>
<text x="58.40" y="187.30" font-size="14.40" text-anchor="end" textLength="22.3" lengthAdjust="spacingAndGlyphs">0.4</text>
<text x="58.40" y="245.30" font-size="14.40" text-anchor="end" textLength="22.3" lengthAdjust="spacingAndGlyphs">0.2</text>
<text x="439.10" y="13.70" font-size="14.40" text-anchor="end">1</text>
<text x="439.10" y="79.70" font-size="14.40" text-anchor="end" textLength="22.3" lengthAdjust="spacingAndGlyphs">0.8</text>
<text x="439.10" y="145.70" font-size="14.40" text-anchor="end" textLength="22.3" lengthAdjust="spacingAndGlyphs">0.6</text>
<text x="439.10" y="211.70" font-size="14.40" text-anchor="end" textLength="22.3" lengthAdjust="spacingAndGlyphs">0.4</text>
<text x="58.20" y="269.80" font-size="14.40" text-anchor="end" textLength="30.3" lengthAdjust="spacingAndGlyphs">0.02</text>
<text x="438.40" y="269.80" font-size="14.40" text-anchor="end" textLength="30.3" lengthAdjust="spacingAndGlyphs">0.02</text>
<text x="58.20" y="285.40" font-size="14.40" text-anchor="end">0</text>
<text x="438.40" y="285.40" font-size="14.40" text-anchor="end">0</text>
<text x="58.20" y="301.00" font-size="14.40" text-anchor="end" textLength="35.5" lengthAdjust="spacingAndGlyphs">-0.02</text>
<text x="438.40" y="301.00" font-size="14.40" text-anchor="end" textLength="35.5" lengthAdjust="spacingAndGlyphs">-0.02</text>
<text x="136.65" y="330.80" font-size="14.40" textLength="16.6" lengthAdjust="spacingAndGlyphs">10</text>
<text x="153.65" y="325.80" font-size="9.20">0</text>
<text x="215.90" y="330.80" font-size="14.40" textLength="16.6" lengthAdjust="spacingAndGlyphs">10</text>
<text x="232.90" y="325.80" font-size="9.20">1</text>
<text x="295.15" y="330.80" font-size="14.40" textLength="16.6" lengthAdjust="spacingAndGlyphs">10</text>
<text x="312.15" y="325.80" font-size="9.20">2</text>
<text x="374.40" y="330.80" font-size="14.40" textLength="16.6" lengthAdjust="spacingAndGlyphs">10</text>
<text x="391.40" y="325.80" font-size="9.20">3</text>
<text x="527.60" y="330.80" font-size="14.40" textLength="16.6" lengthAdjust="spacingAndGlyphs">10</text>
<text x="544.60" y="325.80" font-size="9.20">0</text>
<text x="618.30" y="330.80" font-size="14.40" textLength="16.6" lengthAdjust="spacingAndGlyphs">10</text>
<text x="635.30" y="325.80" font-size="9.20">1</text>
<text x="709.00" y="330.80" font-size="14.40" textLength="16.6" lengthAdjust="spacingAndGlyphs">10</text>
<text x="726.00" y="325.80" font-size="9.20">2</text>
<text x="225.60" y="18.40" font-size="14.40" text-anchor="end" textLength="21.5" lengthAdjust="spacingAndGlyphs">0.8</text>
<text x="225.60" y="69.20" font-size="14.40" text-anchor="end" textLength="21.5" lengthAdjust="spacingAndGlyphs">0.6</text>
<text x="225.60" y="119.90" font-size="14.40" text-anchor="end" textLength="21.5" lengthAdjust="spacingAndGlyphs">0.4</text>
<text x="237.80" y="136.90" font-size="14.40" text-anchor="middle">2</text>
<text x="267.14" y="136.90" font-size="14.40" text-anchor="middle">4</text>
<text x="296.48" y="136.90" font-size="14.40" text-anchor="middle">6</text>
<text x="325.82" y="136.90" font-size="14.40" text-anchor="middle">8</text>
<text x="608.80" y="91.40" font-size="14.40" text-anchor="end">2</text>
<text x="608.80" y="56.00" font-size="14.40" text-anchor="end">4</text>
<text x="608.80" y="20.60" font-size="14.40" text-anchor="end">6</text>
<text x="642.91" y="136.60" font-size="14.40" text-anchor="middle">3</text>
<text x="670.72" y="136.60" font-size="14.40" text-anchor="middle">6</text>
<text x="698.53" y="136.60" font-size="14.40" text-anchor="middle">9</text>
<text x="726.34" y="136.60" font-size="14.40" text-anchor="middle" textLength="16.6" lengthAdjust="spacingAndGlyphs">12</text>
<text x="226.90" y="350.60" font-size="19.50" text-anchor="middle" textLength="58.5" lengthAdjust="spacingAndGlyphs">w (<tspan font-style="italic">μ</tspan>s)</text>
<text x="607.30" y="350.60" font-size="19.50" text-anchor="middle" textLength="58.5" lengthAdjust="spacingAndGlyphs">w (<tspan font-style="italic">μ</tspan>s)</text>
<text x="289.00" y="154.40" font-size="15.80" text-anchor="middle" textLength="20.8" lengthAdjust="spacingAndGlyphs">pH</text>
<text x="672.80" y="154.40" font-size="15.80" text-anchor="middle" textLength="79.5" lengthAdjust="spacingAndGlyphs">PBS [mM]</text>
<text transform="translate(196.8,63.5) rotate(-90)" font-size="16.5" text-anchor="middle"><tspan font-style="italic">k</tspan><tspan font-size="11.5" font-style="italic" dy="3.5">T</tspan></text>
<text transform="translate(592.8,64.3) rotate(-90)" font-size="16.5" text-anchor="middle"><tspan font-style="italic">k</tspan><tspan font-size="11.5" font-style="italic" dy="3.5">H</tspan></text>
<text transform="translate(16.6,126.5) rotate(-90)" font-size="19.5" text-anchor="middle" textLength="113" lengthAdjust="spacingAndGlyphs">⟨<tspan font-style="italic">F</tspan><tspan font-size="14" dy="4">exc</tspan><tspan dy="-4">(</tspan><tspan font-style="italic">w</tspan>)⟩<tspan font-size="14" font-style="italic" dy="4">norm</tspan></text>
<text transform="translate(16.6,279.5) rotate(-90)" font-size="19.5" text-anchor="middle" textLength="89" lengthAdjust="spacingAndGlyphs">Residuals</text>
<text x="366.00" y="38.20" font-size="43.50" text-anchor="middle" font-weight="bold">A</text>
<text x="748.00" y="38.20" font-size="43.50" text-anchor="middle" font-weight="bold">B</text>
</g>
</svg>
</body></html>
